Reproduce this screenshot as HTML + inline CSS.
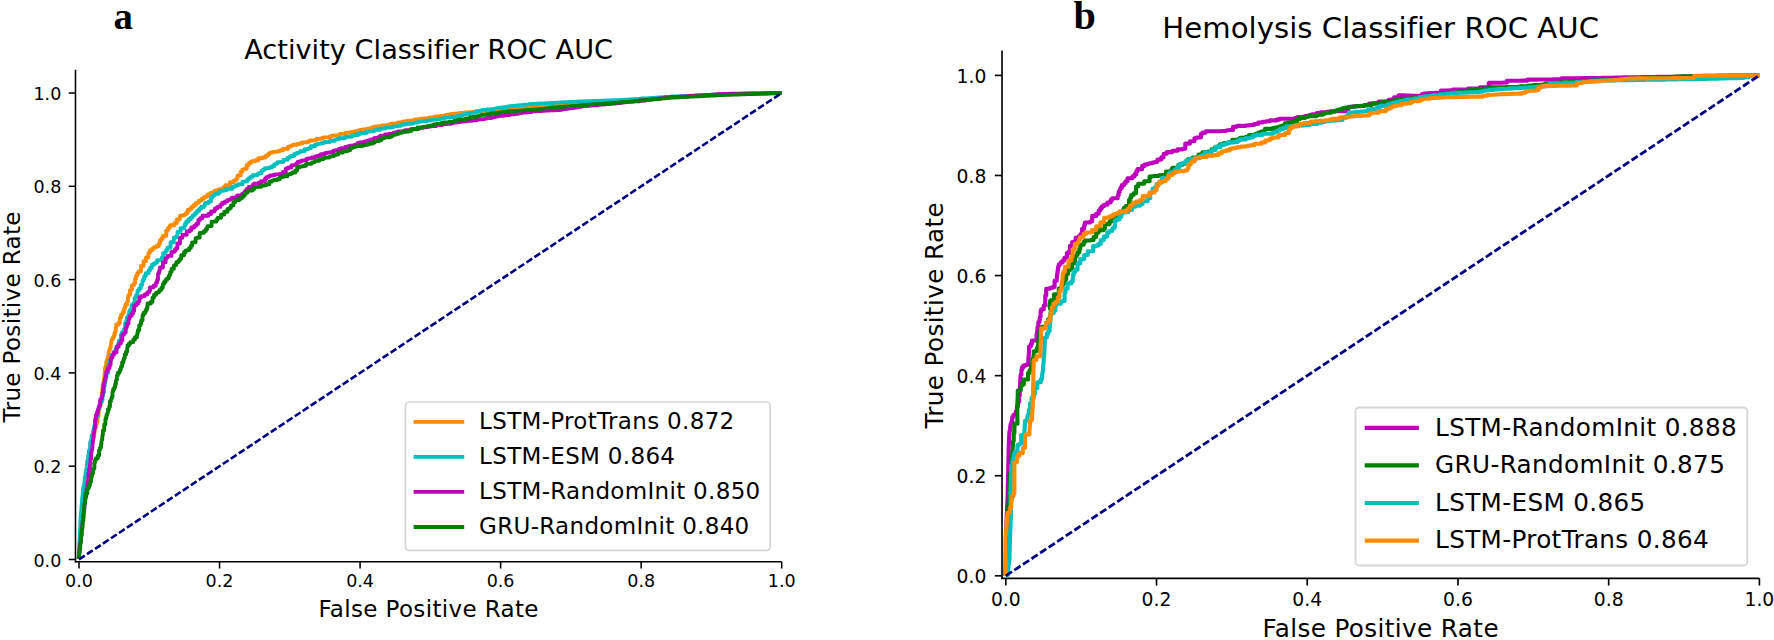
<!DOCTYPE html>
<html><head><meta charset="utf-8"><title>ROC AUC</title>
<style>
html,body{margin:0;padding:0;background:#fff;}
body{width:1774px;height:640px;overflow:hidden;}
svg{display:block;}
svg text{font-family:"DejaVu Sans","Liberation Sans",sans-serif;fill:#000;}
svg text.ltr{font-family:"Liberation Serif",serif;font-weight:bold;}
</style></head><body>
<svg width="1774" height="640" viewBox="0 0 1774 640">
<rect width="1774" height="640" fill="#fff"/>
<polyline points="78.8,558.8 78.9,557.1 79.0,554.4 79.2,552.1 79.4,548.8 79.5,546.1 79.7,543.5 79.9,540.2 80.0,538.1 80.2,534.9 80.3,532.6 80.5,530.0 80.7,526.6 80.9,523.5 81.1,520.8 81.3,517.7 81.4,516.1 81.6,513.8 81.8,510.5 82.0,507.5 82.2,505.2 82.3,503.2 82.4,501.0 82.5,500.0 82.7,498.3 83.1,498.3 83.1,494.9 83.1,492.4 83.5,492.4 83.7,490.3 84.0,488.0 84.2,486.2 84.5,484.0 84.8,481.8 85.1,481.8 85.1,478.9 85.3,477.4 85.6,475.6 85.6,472.4 85.9,472.4 86.0,472.0 86.4,472.0 86.4,469.4 86.8,469.4 86.8,467.5 86.8,464.6 87.3,464.6 87.3,461.7 87.8,461.7 88.2,461.7 88.2,459.3 88.7,459.3 88.7,456.5 88.7,454.7 89.0,454.7 89.0,452.8 89.3,452.8 89.8,452.8 89.8,449.8 90.2,449.8 90.2,447.6 90.7,447.6 90.7,444.5 91.0,443.0 91.7,443.0 91.7,440.4 92.3,440.4 92.3,438.4 92.3,436.4 92.9,436.4 92.9,434.2 93.5,434.2 93.5,432.8 93.9,432.8 94.6,432.8 94.6,430.4 94.6,427.6 95.4,427.6 96.0,427.6 96.0,425.4 96.4,425.4 96.4,423.8 96.9,423.8 96.9,422.2 97.5,422.2 97.5,420.0 97.5,417.8 97.9,417.8 97.9,416.0 98.2,416.0 98.6,416.0 98.6,413.9 98.6,411.8 98.9,411.8 98.9,408.7 99.5,408.7 99.5,405.3 100.1,405.3 100.6,405.3 100.6,402.3 101.2,402.3 101.2,399.0 101.2,398.8 101.6,398.8 101.6,395.8 102.0,395.8 102.0,392.7 102.2,391.1 102.4,389.6 102.7,387.6 102.7,384.7 103.1,384.7 103.4,384.7 103.4,382.1 103.8,382.1 103.8,379.5 104.2,379.5 104.2,376.4 104.4,374.9 104.7,374.9 104.7,372.1 105.0,370.0 105.0,368.0 105.4,368.0 105.4,366.5 105.8,366.5 106.2,366.5 106.2,364.7 106.2,362.1 106.8,362.1 106.8,360.0 107.2,360.0 107.6,360.0 107.6,358.2 108.0,358.2 108.0,356.4 108.6,356.4 108.6,353.9 108.6,352.1 109.0,352.1 109.0,350.3 109.4,350.3 109.9,350.3 109.9,348.1 110.0,347.5 110.7,347.5 110.7,345.3 111.1,345.3 111.1,343.8 111.1,342.4 111.6,342.4 111.6,339.6 112.5,339.6 112.5,337.9 113.0,337.9 113.5,337.9 113.5,336.2 114.4,336.2 114.4,333.3 115.2,333.3 115.2,330.9 115.9,330.9 115.9,328.6 115.9,327.5 116.2,327.5 116.2,324.5 117.7,324.5 118.8,324.5 118.8,322.4 119.9,322.4 119.9,320.3 119.9,317.7 121.1,317.7 121.1,314.6 122.7,314.6 122.7,312.5 123.8,312.5 123.8,309.2 124.8,309.2 124.8,307.4 125.3,307.4 125.3,304.7 126.2,304.7 127.0,304.7 127.0,302.1 127.9,302.1 127.9,299.3 127.9,297.3 128.5,297.3 128.5,294.9 129.2,294.9 130.0,294.9 130.0,292.5 130.0,290.0 131.0,290.0 131.9,290.0 131.9,287.9 131.9,285.3 133.0,285.3 134.0,285.3 134.0,282.9 135.2,282.9 135.2,280.0 135.2,278.4 135.9,278.4 136.2,278.4 136.2,277.5 136.2,275.5 137.3,275.5 137.3,273.1 138.6,273.1 138.6,271.3 139.6,271.3 141.0,271.3 141.0,268.8 141.0,265.8 142.5,265.8 143.6,265.8 143.6,263.9 143.6,261.2 145.0,261.2 146.0,261.2 146.0,259.5 146.0,257.5 147.1,257.5 148.4,257.5 148.4,255.4 148.4,253.2 149.6,253.2 149.6,252.5 150.0,252.5 150.0,250.2 152.3,250.2 152.3,248.6 153.9,248.6 153.9,247.1 155.4,247.1 156.5,247.1 156.5,246.0 158.9,246.0 158.9,243.6 160.0,243.6 160.0,242.5 160.0,240.1 161.6,240.1 161.6,238.5 162.7,238.5 162.7,236.0 164.3,236.0 166.2,236.0 166.2,233.2 166.2,230.6 168.0,230.6 168.0,227.9 169.7,227.9 170.0,227.5 170.0,225.2 172.3,225.2 174.5,225.2 174.5,223.0 176.8,223.0 176.8,220.7 176.8,219.5 178.0,219.5 179.7,219.5 179.7,217.8 180.0,217.5 180.0,215.6 182.6,215.6 183.8,215.6 183.8,214.6 185.9,214.6 185.9,213.1 187.6,213.1 187.6,211.8 187.6,210.0 190.0,210.0 190.0,208.6 191.6,208.6 191.6,206.9 193.6,206.9 193.6,204.9 195.9,204.9 195.9,202.8 198.4,202.8 198.4,202.5 198.8,202.5 198.8,200.6 201.4,200.6 201.4,198.9 203.8,198.9 203.8,197.1 206.3,197.1 206.3,196.2 207.5,196.2 207.5,194.3 210.4,194.3 210.4,192.8 212.7,192.8 214.0,192.8 214.0,191.9 214.0,191.2 215.0,191.2 215.0,190.6 217.1,190.6 217.1,190.1 218.6,190.1 218.6,189.3 220.7,189.3 220.7,188.8 222.5,188.8 223.8,188.8 223.8,187.9 223.8,186.8 225.4,186.8 225.4,185.2 227.8,185.2 230.0,185.2 230.0,183.8 230.0,182.2 231.9,182.2 233.7,182.2 233.7,180.6 236.0,180.6 236.0,178.8 237.5,178.8 237.5,177.5 237.5,175.3 239.4,175.3 240.7,175.3 240.7,173.8 240.7,171.7 242.4,171.7 242.4,169.3 244.5,169.3 244.5,168.8 245.0,168.8 246.8,168.8 246.8,166.9 246.8,165.0 248.8,165.0 248.8,163.0 250.7,163.0 250.7,161.7 252.0,161.7 252.0,161.2 252.5,161.2 255.3,161.2 255.3,160.2 258.3,160.2 258.3,159.1 258.3,158.2 260.6,158.2 262.5,158.2 262.5,157.5 265.4,157.5 265.4,156.0 266.9,156.0 266.9,155.3 268.3,155.3 268.3,154.6 268.3,153.8 269.9,153.8 269.9,152.6 272.4,152.6 272.5,152.5 272.5,151.8 274.7,151.8 276.4,151.8 276.4,151.3 279.7,151.3 279.7,150.4 282.9,150.4 282.9,149.4 282.9,148.9 284.5,148.9 285.0,148.8 288.0,148.8 288.0,147.6 288.0,146.7 290.0,146.7 290.0,146.1 291.7,146.1 291.7,145.4 293.3,145.4 293.3,144.7 295.1,144.7 297.2,144.7 297.2,143.9 297.5,143.8 300.4,143.8 300.4,143.2 302.3,143.2 302.3,142.8 302.3,142.3 304.9,142.3 308.0,142.3 308.0,141.6 308.0,141.2 310.0,141.2 310.0,140.5 312.8,140.5 314.5,140.5 314.5,140.0 316.3,140.0 316.3,139.6 316.3,139.0 318.6,139.0 320.0,139.0 320.0,138.6 321.7,138.6 321.7,138.2 323.3,138.2 323.3,137.9 323.3,137.4 326.0,137.4 329.3,137.4 329.3,136.7 331.5,136.7 331.5,136.2 331.5,135.6 334.5,135.6 334.5,135.3 336.3,135.3 339.0,135.3 339.0,134.7 340.0,134.5 340.0,133.8 343.2,133.8 345.9,133.8 345.9,133.2 345.9,132.6 348.6,132.6 350.7,132.6 350.7,132.1 353.9,132.1 353.9,131.4 357.2,131.4 357.2,130.6 358.9,130.6 358.9,130.3 360.0,130.0 362.4,130.0 362.4,129.5 364.8,129.5 364.8,129.1 368.2,129.1 368.2,128.4 370.8,128.4 370.8,127.9 372.6,127.9 372.6,127.6 372.6,127.2 374.5,127.2 374.5,126.6 377.9,126.6 377.9,126.2 380.0,126.2 382.3,126.2 382.3,125.8 382.3,125.3 384.7,125.3 387.7,125.3 387.7,124.7 391.2,124.7 391.2,124.1 391.2,123.6 393.6,123.6 396.3,123.6 396.3,123.1 397.9,123.1 397.9,122.8 397.9,122.5 399.7,122.5 400.0,122.4 402.8,122.4 402.8,121.9 402.8,121.5 405.1,121.5 405.1,121.1 407.6,121.1 407.6,120.7 409.9,120.7 412.8,120.7 412.8,120.2 414.7,120.2 414.7,119.9 414.7,119.5 417.0,119.5 420.0,119.5 420.0,119.0 420.0,118.6 423.2,118.6 423.2,118.3 425.5,118.3 428.0,118.3 428.0,117.9 429.8,117.7 429.8,117.4 432.2,117.4 433.9,117.1 435.5,116.9 435.5,116.5 438.3,116.5 440.0,116.3 440.0,115.8 442.9,115.8 445.5,115.8 445.5,115.4 445.5,115.0 448.0,115.0 448.0,114.5 451.1,114.5 451.1,114.0 453.7,114.0 453.7,113.7 455.9,113.7 458.0,113.7 458.0,113.3 459.8,113.0 460.0,113.0 462.6,112.8 465.2,112.5 468.1,112.3 470.5,112.1 473.6,111.8 476.7,111.5 479.2,111.3 481.3,111.1 483.7,110.9 485.0,110.8 487.6,110.5 491.0,110.3 493.2,110.1 496.4,109.8 499.3,109.6 501.1,109.5 503.3,109.3 506.4,109.0 509.0,108.8 510.0,108.8 511.8,108.6 511.8,108.2 515.2,108.2 516.7,108.1 519.5,107.8 519.5,107.5 522.7,107.5 525.7,107.5 525.7,107.2 527.5,107.0 529.3,106.8 532.1,106.5 534.8,106.3 535.0,106.2 537.6,106.0 539.1,105.8 541.8,105.6 544.4,105.3 547.1,105.0 547.1,104.7 550.3,104.7 552.4,104.5 552.4,104.2 555.6,104.2 557.9,104.0 560.0,103.8 561.7,103.7 564.2,103.5 567.6,103.4 570.5,103.2 573.3,103.1 574.8,103.0 577.5,102.9 579.9,102.8 581.8,102.7 584.6,102.5 585.0,102.5 587.5,102.4 590.7,102.3 592.5,102.2 594.5,102.2 596.6,102.1 598.7,102.0 601.6,101.9 603.2,101.9 605.2,101.8 606.9,101.7 609.5,101.6 611.7,101.5 613.3,101.5 615.0,101.4 617.2,101.3 620.0,101.2 621.6,101.1 623.9,100.9 626.7,100.7 629.5,100.5 631.9,100.3 633.8,100.2 636.0,100.0 638.3,99.8 640.6,99.6 643.5,99.4 645.1,99.3 648.0,99.1 649.8,98.9 652.7,98.7 655.7,98.5 657.3,98.3 660.6,98.1 663.8,97.8 665.4,97.7 668.2,97.5 671.7,97.2 673.0,97.1 675.1,97.0 677.1,96.9 678.7,96.8 682.2,96.6 685.5,96.5 687.4,96.4 690.0,96.2 692.4,96.1 695.7,95.9 697.7,95.8 701.1,95.7 702.9,95.6 704.8,95.5 706.5,95.4 709.4,95.2 711.0,95.2 713.3,95.0 715.3,94.9 717.9,94.8 720.0,94.7 722.9,94.6 725.8,94.4 726.0,94.4 728.5,94.3 731.7,94.3 734.0,94.2 736.7,94.1 739.2,94.1 740.7,94.0 742.8,94.0 744.7,93.9 747.7,93.9 750.1,93.8 753.1,93.7 756.1,93.6 758.4,93.6 760.4,93.5 763.0,93.5 765.5,93.4 768.7,93.3 772.1,93.2 775.2,93.2 777.2,93.1 779.1,93.1 781.4,93.0 781.6,93.0" fill="none" stroke="#ff8c00" stroke-width="3.85" stroke-linejoin="round" stroke-linecap="butt"/>
<polyline points="78.8,558.8 78.8,556.8 79.0,554.1 79.1,550.7 79.2,547.8 79.4,545.4 79.4,543.3 79.5,541.5 79.7,538.0 79.8,535.0 79.9,533.0 80.0,530.3 80.2,527.4 80.3,524.1 80.4,522.0 80.5,520.0 80.6,518.1 80.9,515.5 81.1,512.1 81.4,509.2 81.5,507.4 81.7,505.2 81.8,503.5 82.0,501.7 82.2,499.2 82.3,497.4 82.5,495.4 82.5,495.0 82.8,495.0 82.8,492.7 83.1,490.7 83.1,488.0 83.5,488.0 83.5,486.0 83.9,486.0 84.3,486.0 84.3,483.0 84.7,483.0 84.7,480.0 84.7,477.1 85.2,477.1 85.5,475.2 85.9,475.2 85.9,472.5 86.2,472.5 86.2,470.0 86.7,470.0 86.7,466.9 87.2,466.9 87.2,464.1 87.2,461.1 87.7,461.1 88.1,461.1 88.1,458.0 88.1,455.5 88.5,455.5 88.9,455.5 88.9,453.3 88.9,450.7 89.3,450.7 89.7,450.7 89.7,448.4 90.1,448.4 90.1,445.6 90.1,442.2 90.6,442.2 91.0,442.2 91.0,440.0 91.6,440.0 91.6,437.5 91.6,435.5 92.0,435.5 92.7,435.5 92.7,432.4 93.5,432.4 93.5,429.2 94.2,429.2 94.2,426.0 95.0,426.0 95.0,422.7 95.0,419.4 95.7,419.4 95.7,417.2 96.2,417.2 96.5,416.0 97.6,416.0 97.6,412.7 97.6,410.5 98.4,410.5 98.4,408.8 99.0,408.8 99.0,407.1 99.6,407.1 99.6,405.0 100.3,405.0 100.3,401.8 101.5,401.8 102.0,401.8 102.0,400.2 102.5,400.2 102.5,398.8 102.5,396.2 102.9,396.2 102.9,394.0 103.3,394.0 103.6,392.3 104.2,392.3 104.2,388.9 104.2,385.7 104.8,385.7 104.8,383.0 105.3,383.0 105.3,380.1 105.8,380.1 105.8,377.4 106.3,377.4 106.5,376.0 106.5,372.8 107.3,372.8 108.2,372.8 108.2,369.5 108.6,369.5 108.6,367.7 108.6,364.6 109.4,364.6 109.4,361.8 110.1,361.8 110.1,360.3 110.5,360.3 111.0,360.3 111.0,358.6 111.2,357.5 111.2,355.7 112.1,355.7 112.1,354.3 112.9,354.3 114.1,354.3 114.1,351.9 115.6,351.9 115.6,348.8 116.7,348.8 116.7,346.6 117.9,346.6 117.9,344.3 118.9,344.3 118.9,342.3 118.9,340.6 119.7,340.6 120.0,340.0 120.8,340.0 120.8,337.9 120.8,334.7 121.9,334.7 121.9,332.2 122.8,332.2 123.8,332.2 123.8,329.2 125.0,329.2 125.0,326.0 125.0,323.4 125.9,323.4 125.9,322.5 126.2,322.5 126.2,320.6 126.9,320.6 126.9,317.5 128.0,317.5 128.0,315.8 128.6,315.8 128.6,314.1 129.2,314.1 129.2,311.3 130.2,311.3 130.2,309.3 130.9,309.3 131.6,309.3 131.6,307.4 131.6,305.0 132.5,305.0 133.4,305.0 133.4,302.9 134.6,302.9 134.6,300.2 134.6,298.1 135.6,298.1 135.6,296.5 136.3,296.5 136.3,294.9 137.0,294.9 137.5,294.9 137.5,293.8 137.5,290.6 138.9,290.6 138.9,288.6 139.8,288.6 140.7,288.6 140.7,286.6 140.7,284.8 141.5,284.8 142.2,284.8 142.2,283.1 142.5,282.5 142.5,280.6 143.5,280.6 143.5,278.8 144.4,278.8 144.4,276.1 145.8,276.1 145.8,273.2 147.3,273.2 148.6,273.2 148.6,270.6 150.0,270.6 150.0,268.0 151.7,268.0 151.7,266.7 151.7,264.9 153.8,264.9 153.8,263.3 155.9,263.3 155.9,262.3 157.1,262.3 157.1,260.2 159.7,260.2 160.0,260.0 161.8,260.0 161.8,257.6 163.2,257.6 163.2,255.7 163.2,253.1 165.2,253.1 165.2,251.7 166.2,251.7 166.2,250.0 167.5,250.0 167.5,247.7 168.9,247.7 170.5,247.7 170.5,245.0 170.5,242.2 172.2,242.2 173.9,242.2 173.9,239.3 173.9,237.6 174.9,237.6 175.0,237.5 176.4,237.5 176.4,235.8 177.5,235.8 177.5,234.4 177.5,232.0 179.4,232.0 180.5,232.0 180.5,230.6 180.5,228.2 182.5,228.2 184.5,228.2 184.5,225.6 185.0,225.6 185.0,225.0 185.0,223.7 186.3,223.7 186.3,221.5 188.5,221.5 188.5,219.2 190.8,219.2 190.8,217.3 192.7,217.3 192.7,215.4 194.6,215.4 194.6,215.0 195.0,215.0 195.0,213.1 196.9,213.1 196.9,211.0 199.0,211.0 199.0,208.8 201.2,208.8 201.2,206.7 203.3,206.7 204.5,206.7 204.5,205.5 205.0,205.5 205.0,205.0 205.0,203.0 207.0,203.0 208.6,203.0 208.6,201.4 210.9,201.4 210.9,199.1 210.9,197.8 212.2,197.8 212.2,196.2 213.8,196.2 213.8,195.0 215.0,195.0 215.0,193.9 216.4,193.9 218.5,193.9 218.5,192.4 220.0,192.4 220.0,191.2 220.0,190.9 221.5,190.9 223.3,190.9 223.3,190.4 225.2,190.4 225.2,189.9 227.2,189.9 227.2,189.4 227.2,188.7 229.6,188.7 232.5,188.7 232.5,188.0 232.5,186.6 235.5,186.6 235.5,185.5 238.0,185.5 238.0,184.2 240.9,184.2 242.5,184.2 242.5,183.5 242.5,181.6 245.3,181.6 247.2,181.6 247.2,180.3 247.2,179.4 248.7,179.4 248.7,178.2 250.5,178.2 250.5,176.8 252.5,176.8 252.5,175.2 255.2,175.2 257.3,175.2 257.3,174.0 258.6,174.0 258.6,173.2 261.6,173.2 261.6,171.5 261.6,170.6 263.1,170.6 263.1,169.5 265.0,169.5 265.0,168.1 267.9,168.1 269.6,168.1 269.6,167.3 271.9,167.3 271.9,166.2 274.2,166.2 274.2,165.1 274.2,164.3 275.8,164.3 275.8,163.5 277.4,163.5 277.5,163.5 277.5,162.1 280.4,162.1 283.3,162.1 283.3,160.7 283.3,159.9 284.9,159.9 287.4,159.9 287.4,158.7 287.4,157.8 289.5,157.8 290.0,157.5 290.0,156.1 292.7,156.1 294.2,156.1 294.2,155.3 294.2,153.9 296.8,153.9 296.8,152.8 299.1,152.8 299.1,152.3 300.0,152.3 300.0,151.2 302.4,151.2 304.7,151.2 304.7,150.1 304.7,149.1 306.9,149.1 308.3,149.1 308.3,148.4 310.8,148.4 310.8,147.2 310.8,146.2 312.9,146.2 315.0,146.2 315.0,145.2 315.0,144.7 317.0,144.7 317.0,143.9 320.1,143.9 320.1,143.4 321.9,143.4 321.9,142.8 324.4,142.8 324.4,142.0 327.4,142.0 329.8,142.0 329.8,141.3 329.8,140.9 331.7,140.9 334.7,140.9 334.7,140.1 335.0,140.0 335.0,139.6 336.6,139.6 336.6,139.0 339.1,139.0 339.1,138.2 342.1,138.2 344.8,138.2 344.8,137.6 344.8,137.1 346.7,137.1 346.7,136.7 348.3,136.7 351.4,136.7 351.4,135.9 353.6,135.9 353.6,135.4 353.6,135.0 355.0,135.0 358.1,135.0 358.1,134.3 358.1,133.7 360.7,133.7 360.7,133.0 363.7,133.0 366.3,133.0 366.3,132.3 366.3,131.9 368.3,131.9 368.3,131.3 370.6,131.3 373.8,131.3 373.8,130.6 375.0,130.3 375.0,129.9 376.9,129.9 380.1,129.9 380.1,129.3 380.1,128.6 383.3,128.6 385.5,128.6 385.5,128.2 385.5,127.6 388.5,127.6 391.3,127.6 391.3,127.0 393.7,127.0 393.7,126.6 395.0,126.3 397.8,126.3 397.8,125.8 400.8,125.8 400.8,125.2 400.8,124.7 403.4,124.7 403.4,124.2 406.4,124.2 406.4,123.9 408.1,123.9 410.3,123.9 410.3,123.5 413.5,123.5 413.5,122.9 415.0,122.6 417.1,122.6 417.1,122.3 418.8,122.0 418.8,121.7 420.9,121.7 420.9,121.4 423.1,121.4 426.6,121.4 426.6,120.9 426.6,120.6 428.6,120.6 430.9,120.6 430.9,120.2 430.9,119.9 433.3,119.9 435.0,119.6 437.8,119.6 437.8,119.2 439.9,119.2 439.9,118.8 441.9,118.8 441.9,118.5 444.1,118.5 444.1,118.1 444.1,117.6 447.2,117.6 448.8,117.4 450.6,117.1 453.3,117.1 453.3,116.7 456.6,116.7 456.6,116.1 459.5,116.1 459.5,115.7 460.0,115.6 462.4,115.6 462.4,115.1 462.4,114.4 465.3,114.4 465.3,113.7 468.4,113.7 468.4,113.4 470.0,113.4 470.0,112.9 472.2,112.9 475.1,112.9 475.1,112.2 476.6,112.2 476.6,111.9 476.6,111.1 480.0,111.1 480.0,110.7 481.9,110.7 481.9,110.0 485.0,110.0 486.5,109.8 486.5,109.5 488.6,109.5 490.9,109.5 490.9,109.1 494.3,109.1 494.3,108.6 496.7,108.6 496.7,108.2 498.3,108.0 498.3,107.6 501.3,107.6 502.9,107.3 505.7,107.3 505.7,106.9 508.1,106.9 508.1,106.5 510.0,106.2 512.2,106.0 513.7,105.9 515.6,105.7 518.2,105.4 520.6,105.2 522.7,105.0 525.2,104.7 527.9,104.5 530.1,104.2 532.8,104.0 535.0,103.8 538.0,103.6 541.0,103.4 543.0,103.4 545.0,103.3 547.3,103.1 550.6,103.0 554.0,102.8 556.3,102.7 558.4,102.6 560.0,102.5 562.1,102.4 565.1,102.2 567.9,102.1 570.7,102.0 573.0,101.9 576.4,101.7 579.9,101.5 583.0,101.4 585.0,101.2 587.2,101.2 589.8,101.1 592.5,101.0 595.3,100.9 598.8,100.8 601.6,100.7 604.5,100.6 607.6,100.4 610.7,100.3 614.1,100.2 616.2,100.1 617.9,100.1 620.0,100.0 622.4,99.8 625.8,99.6 628.2,99.5 631.0,99.3 632.9,99.1 635.7,99.0 638.6,98.8 642.0,98.5 643.6,98.4 645.6,98.3 649.0,98.1 651.5,97.9 653.3,97.8 656.3,97.6 658.0,97.5 660.1,97.4 663.4,97.1 666.8,96.9 669.0,96.8 672.3,96.5 673.0,96.5 675.6,96.4 677.7,96.3 680.8,96.1 683.8,96.0 685.9,95.9 687.7,95.8 690.6,95.7 692.8,95.6 695.8,95.4 698.1,95.3 701.0,95.2 704.4,95.0 706.1,94.9 707.7,94.9 709.4,94.8 712.0,94.7 715.3,94.5 716.8,94.4 718.5,94.4 720.6,94.3 722.5,94.2 725.8,94.0 726.0,94.0 728.8,93.9 730.4,93.9 733.6,93.9 735.8,93.8 738.4,93.8 741.4,93.7 744.1,93.7 745.7,93.6 748.6,93.6 751.0,93.5 753.2,93.5 756.2,93.5 758.9,93.4 761.2,93.4 764.3,93.3 767.4,93.3 769.8,93.2 771.4,93.2 774.4,93.1 776.8,93.1 779.2,93.0 781.6,93.0" fill="none" stroke="#00bfbf" stroke-width="3.85" stroke-linejoin="round" stroke-linecap="butt"/>
<polyline points="78.8,558.8 78.8,555.4 79.1,555.4 79.4,552.9 79.6,551.1 79.7,549.6 79.9,547.8 80.2,545.0 80.4,543.0 80.8,543.0 80.8,540.2 81.0,537.6 81.2,536.0 81.4,534.3 81.6,532.2 81.9,530.0 82.2,530.0 82.2,526.7 82.5,524.3 82.7,522.5 82.9,520.2 83.3,520.2 83.3,516.9 83.5,514.7 83.7,512.6 83.8,512.5 84.1,512.5 84.1,509.7 84.4,507.8 84.4,505.2 84.7,505.2 84.7,502.6 85.1,502.6 85.1,500.0 85.4,500.0 85.4,497.0 85.8,497.0 86.2,497.0 86.2,494.0 86.5,491.8 86.5,488.8 86.9,488.8 87.2,487.0 87.4,485.5 87.4,483.1 87.7,483.1 87.9,481.0 88.4,481.0 88.4,477.9 88.4,475.0 88.8,475.0 88.8,471.9 89.1,471.9 89.1,469.1 89.5,469.1 89.9,469.1 89.9,466.0 90.1,464.0 90.5,464.0 90.5,461.2 90.5,458.7 90.8,458.7 91.2,458.7 91.2,455.6 91.2,452.8 91.5,452.8 91.7,451.1 91.9,449.5 92.3,449.5 92.3,446.9 92.5,445.0 92.8,442.9 93.0,440.8 93.2,439.1 93.4,437.6 93.8,437.6 93.8,434.3 94.1,432.4 94.3,430.6 94.6,430.6 94.6,427.8 95.0,427.8 95.0,425.0 95.3,425.0 95.3,422.4 95.3,419.4 95.7,419.4 95.9,417.9 95.9,415.0 96.2,415.0 97.0,415.0 97.0,412.5 98.0,412.5 98.0,409.4 98.6,409.4 98.6,407.2 99.1,407.2 99.1,405.6 100.2,405.6 100.2,402.3 100.2,399.5 101.0,399.5 101.2,398.8 101.8,398.8 101.8,395.9 102.5,395.9 102.5,392.7 102.9,392.7 102.9,390.9 102.9,388.3 103.5,388.3 103.5,384.9 104.2,384.9 104.2,382.0 104.8,382.0 104.8,379.1 105.4,379.1 105.4,377.3 105.8,377.3 105.8,375.2 106.2,375.2 106.2,375.0 106.2,371.8 107.3,371.8 107.3,369.7 108.0,369.7 108.0,367.9 108.6,367.9 109.6,367.9 109.6,365.1 110.6,365.1 110.6,362.0 110.6,360.0 111.2,360.0 111.2,357.4 112.5,357.4 112.5,354.8 113.9,354.8 113.9,352.2 115.1,352.2 116.6,352.2 116.6,349.3 116.6,346.7 117.9,346.7 118.7,346.7 118.7,345.0 118.8,345.0 118.8,343.6 119.4,343.6 120.9,343.6 120.9,340.6 122.3,340.6 122.3,337.9 122.3,334.7 123.9,334.7 123.9,332.8 124.9,332.8 125.0,332.5 125.8,332.5 125.8,330.2 125.8,328.3 126.4,328.3 126.4,326.2 127.1,326.2 127.1,323.6 128.0,323.6 128.6,323.6 128.6,321.7 128.6,318.9 129.5,318.9 129.5,317.5 130.0,317.5 130.0,315.8 130.8,315.8 131.8,315.8 131.8,313.6 133.0,313.6 133.0,311.0 134.2,311.0 134.2,308.3 134.2,305.4 135.5,305.4 136.2,305.4 136.2,303.8 138.0,303.8 138.0,301.6 139.4,301.6 139.4,299.9 139.4,297.5 141.2,297.5 141.2,296.1 142.9,296.1 144.7,296.1 144.7,294.5 147.3,294.5 147.3,292.4 149.1,292.4 149.1,290.8 150.0,290.8 150.0,290.0 150.0,287.3 152.2,287.3 153.5,287.3 153.5,285.7 155.8,285.7 155.8,283.1 156.2,283.1 156.2,282.5 157.1,282.5 157.1,279.8 158.0,279.8 158.0,276.6 158.0,273.7 158.9,273.7 158.9,271.9 159.4,271.9 159.4,270.0 160.0,270.0 160.0,267.5 161.5,267.5 162.9,267.5 162.9,265.2 162.9,262.4 164.6,262.4 165.6,262.4 165.6,260.7 165.6,258.1 167.2,258.1 167.2,257.5 167.5,257.5 167.5,255.9 169.1,255.9 171.4,255.9 171.4,253.6 171.4,251.8 173.2,251.8 174.6,251.8 174.6,250.4 174.6,250.0 175.0,250.0 176.0,250.0 176.0,248.2 177.4,248.2 177.4,245.6 177.4,243.5 178.5,243.5 180.0,243.5 180.0,240.8 180.0,237.8 181.6,237.8 182.4,237.8 182.4,236.5 182.5,236.2 182.5,234.8 184.1,234.8 186.7,234.8 186.7,232.5 186.7,231.4 188.0,231.4 189.8,231.4 189.8,229.9 191.3,229.9 191.3,228.6 191.3,227.5 192.5,227.5 194.3,227.5 194.3,225.7 196.3,225.7 196.3,223.7 198.3,223.7 198.3,221.7 198.3,219.9 200.1,219.9 200.1,218.2 201.8,218.2 202.5,218.2 202.5,217.5 202.5,215.7 205.4,215.7 208.4,215.7 208.4,214.0 211.1,214.0 211.1,212.4 211.1,211.5 212.4,211.5 214.4,211.5 214.4,210.4 215.0,210.4 215.0,210.0 215.0,208.3 217.3,208.3 217.3,206.9 219.1,206.9 220.3,206.9 220.3,206.0 220.3,204.8 222.0,204.8 222.0,203.0 224.4,203.0 225.0,203.0 225.0,202.5 225.0,201.3 227.5,201.3 227.5,199.8 230.5,199.8 230.5,199.0 231.9,199.0 231.9,197.7 234.5,197.7 235.0,197.5 237.1,197.5 237.1,196.5 237.1,195.5 239.1,195.5 242.0,195.5 242.0,194.0 244.1,194.0 244.1,193.0 244.1,192.5 245.0,192.5 245.0,190.8 246.7,190.8 246.7,188.9 248.6,188.9 248.6,187.0 250.5,187.0 252.5,187.0 252.5,185.0 254.0,185.0 254.0,184.5 254.0,183.7 256.1,183.7 258.6,183.7 258.6,182.7 261.0,182.7 261.0,181.8 261.0,181.2 262.5,181.2 265.0,181.2 265.0,179.6 265.0,178.7 266.3,178.7 266.3,177.1 268.7,177.1 268.7,176.2 270.0,176.2 270.0,175.5 273.2,175.5 273.2,175.0 275.1,175.0 275.1,174.4 277.5,174.4 279.5,174.4 279.5,173.9 280.0,173.8 282.9,173.8 282.9,172.0 285.8,172.0 285.8,170.1 285.8,168.6 288.2,168.6 288.2,167.5 290.0,167.5 291.6,167.5 291.6,166.6 291.6,165.1 294.4,165.1 296.2,165.1 296.2,164.1 296.2,163.3 297.6,163.3 297.6,162.0 300.0,162.0 300.0,161.2 302.0,161.2 302.0,160.3 304.4,160.3 306.4,160.3 306.4,159.6 306.4,159.0 308.0,159.0 308.0,158.3 309.8,158.3 311.8,158.3 311.8,157.5 315.0,157.5 315.0,156.3 315.0,156.3 316.9,156.3 316.9,155.8 319.2,155.8 319.2,155.2 320.9,155.2 320.9,154.7 320.9,154.1 323.1,154.1 324.7,154.1 324.7,153.7 324.7,153.2 326.5,153.2 326.5,152.6 328.7,152.6 328.7,152.3 330.0,152.3 331.6,152.3 331.6,151.8 333.5,151.8 333.5,151.3 333.5,150.6 335.5,150.6 335.5,150.2 337.1,150.2 338.9,150.2 338.9,149.6 338.9,149.0 341.0,149.0 341.0,148.1 344.1,148.1 345.0,147.8 345.0,146.8 348.0,146.8 348.0,146.2 350.0,146.2 350.0,145.6 351.7,145.6 354.2,145.6 354.2,144.8 357.4,144.8 357.4,143.8 357.4,143.1 359.6,143.1 359.6,142.4 361.8,142.4 364.5,142.4 364.5,141.4 365.0,141.3 367.2,141.3 367.2,140.6 370.1,140.6 370.1,139.7 372.8,139.7 372.8,138.8 374.4,138.8 374.4,138.3 374.4,137.8 376.3,137.8 378.6,137.8 378.6,137.0 380.4,137.0 380.4,136.4 380.4,135.7 382.9,135.7 385.0,135.7 385.0,135.0 385.0,135.0 385.0,134.4 387.6,134.4 389.1,134.4 389.1,134.1 389.1,133.7 390.8,133.7 393.5,133.7 393.5,133.1 393.5,132.6 395.5,132.6 395.5,132.1 397.9,132.1 397.9,131.4 401.0,131.4 403.4,131.4 403.4,130.8 405.0,130.8 405.0,130.5 405.0,130.1 407.8,130.1 410.2,130.1 410.2,129.7 410.2,129.4 412.4,129.4 412.4,129.0 415.5,129.0 418.6,129.0 418.6,128.5 420.0,128.3 420.0,127.9 422.6,127.9 422.6,127.4 425.7,127.4 427.5,127.1 427.5,126.7 429.4,126.7 429.4,126.4 431.4,126.4 433.1,126.1 436.2,126.1 436.2,125.6 436.2,125.1 439.7,125.1 440.0,125.0 442.5,125.0 442.5,124.6 444.0,124.4 444.0,124.0 446.8,124.0 448.7,123.7 451.4,123.7 451.4,123.3 453.3,123.0 453.3,122.6 456.0,122.6 456.0,122.2 458.6,122.2 460.0,122.0 461.9,121.7 464.0,121.5 465.6,121.3 467.5,121.0 469.7,120.7 472.2,120.7 472.2,120.4 473.9,120.2 476.8,120.2 476.8,119.8 478.4,119.6 480.3,119.4 483.2,119.4 483.2,119.0 485.0,118.8 485.0,118.8 486.7,118.5 486.7,118.0 489.1,118.0 491.5,118.0 491.5,117.6 491.5,117.2 494.2,117.2 494.2,116.8 496.4,116.8 496.4,116.3 499.5,116.3 499.5,115.9 501.8,115.9 503.8,115.9 503.8,115.6 503.8,115.0 506.8,115.0 510.0,115.0 510.0,114.5 511.8,114.3 515.1,114.3 515.1,113.8 518.4,113.8 518.4,113.4 518.4,113.0 521.8,113.0 521.8,112.6 524.5,112.6 527.1,112.6 527.1,112.3 528.8,112.1 531.6,112.1 531.6,111.7 531.6,111.3 534.4,111.3 535.0,111.2 536.9,111.2 540.2,111.0 543.7,110.8 546.5,110.7 548.7,110.6 552.0,110.4 554.5,110.3 557.0,110.2 560.0,110.0 560.0,110.0 560.0,109.7 562.1,109.7 563.7,109.4 563.7,109.0 566.4,109.0 566.4,108.6 569.2,108.6 569.2,108.3 571.6,108.3 573.4,108.0 575.1,107.7 576.7,107.5 578.6,107.2 578.6,106.8 581.2,106.8 581.2,106.4 583.7,106.4 585.0,106.2 587.0,106.1 588.5,105.9 591.6,105.6 594.0,105.4 597.5,105.4 597.5,105.1 599.5,104.9 601.2,104.7 604.0,104.5 607.2,104.2 609.0,104.0 611.9,103.8 613.8,103.6 616.8,103.3 619.1,103.1 620.0,103.0 622.6,102.7 625.0,102.4 626.9,102.2 626.9,101.9 629.8,101.9 631.8,101.7 634.4,101.4 636.1,101.2 639.4,101.2 639.4,100.8 639.4,100.5 642.4,100.5 645.5,100.5 645.5,100.1 647.5,99.9 650.0,99.6 652.0,99.4 654.4,99.1 657.5,99.1 657.5,98.8 659.5,98.5 661.5,98.3 663.2,98.1 665.2,97.9 665.2,97.5 668.2,97.5 670.2,97.3 670.2,97.0 673.0,97.0 676.5,96.8 679.9,96.6 683.2,96.4 685.4,96.3 688.4,96.1 691.0,95.9 692.7,95.8 695.1,95.7 697.5,95.5 700.8,95.3 704.2,95.1 706.5,95.0 708.5,94.9 710.1,94.8 713.2,94.6 716.6,94.4 719.1,94.2 721.5,94.1 723.6,93.9 726.0,93.8 728.1,93.8 731.0,93.7 733.2,93.7 736.4,93.7 738.2,93.6 739.9,93.6 742.2,93.6 745.4,93.5 748.8,93.5 752.1,93.4 755.0,93.4 758.3,93.3 760.8,93.3 763.0,93.3 766.5,93.2 769.5,93.2 773.0,93.1 776.2,93.1 778.0,93.1 780.3,93.0 781.6,93.0" fill="none" stroke="#bf00bf" stroke-width="3.85" stroke-linejoin="round" stroke-linecap="butt"/>
<polyline points="78.8,558.8 79.0,556.8 79.2,555.1 79.2,552.3 79.5,552.3 79.5,549.5 79.8,549.5 80.2,549.5 80.2,546.1 80.4,544.0 80.6,542.4 80.9,542.4 80.9,539.3 81.2,537.1 81.3,535.4 81.7,535.4 81.7,532.0 82.0,529.6 82.2,527.8 82.5,527.8 82.5,525.0 82.7,522.9 82.9,520.7 83.3,520.7 83.3,517.5 83.6,517.5 83.6,514.1 83.8,512.2 84.2,512.2 84.2,508.8 84.2,505.6 84.5,505.6 84.7,503.5 85.1,503.5 85.1,500.1 85.3,498.4 85.4,496.7 85.5,496.0 85.5,493.4 86.6,493.4 87.3,493.4 87.3,491.7 87.3,488.5 88.6,488.5 88.6,487.0 89.2,487.0 89.2,485.0 90.0,485.0 90.0,485.0 90.0,483.4 90.4,483.4 90.4,481.5 90.8,481.5 91.1,481.5 91.1,479.9 91.1,476.9 91.8,476.9 91.8,475.2 92.2,475.2 92.2,473.6 92.5,473.6 93.0,473.6 93.0,471.6 93.0,470.1 93.3,470.1 93.3,468.6 93.6,468.6 94.4,468.6 94.4,465.2 94.4,462.8 94.9,462.8 95.0,462.5 95.0,460.1 96.0,460.1 96.0,458.2 96.7,458.2 97.9,458.2 97.9,455.4 99.1,455.4 99.1,452.2 99.1,450.1 100.0,450.1 100.0,450.0 100.0,447.7 100.4,447.7 101.0,447.7 101.0,444.3 101.4,444.3 101.4,441.3 101.8,441.3 101.8,439.4 102.3,439.4 102.3,436.5 102.5,435.0 102.9,435.0 102.9,433.2 102.9,430.6 103.5,430.6 104.2,430.6 104.2,427.5 104.2,424.4 104.9,424.4 105.4,424.4 105.4,421.8 105.4,418.9 106.1,418.9 106.1,417.2 106.5,417.2 106.5,415.1 106.9,415.1 107.3,415.1 107.3,413.3 107.5,412.5 108.0,412.5 108.0,410.7 108.0,409.1 108.4,409.1 109.2,409.1 109.2,406.4 110.0,406.4 110.0,403.3 110.0,401.0 110.6,401.0 111.2,401.0 111.2,398.8 111.7,398.8 111.7,396.9 112.5,396.9 112.5,394.0 112.5,391.8 113.1,391.8 113.1,389.3 113.8,389.3 114.3,389.3 114.3,387.3 115.1,387.3 115.1,384.2 115.9,384.2 115.9,381.3 116.2,381.3 116.2,380.0 116.9,380.0 116.9,378.2 116.9,375.6 117.8,375.6 117.8,372.8 118.8,372.8 119.4,372.8 119.4,371.2 120.1,371.2 120.1,369.2 121.0,369.2 121.0,366.6 122.1,366.6 122.1,363.6 122.1,362.5 122.5,362.5 123.3,362.5 123.3,360.2 123.9,360.2 123.9,358.3 124.7,358.3 124.7,356.0 124.7,354.5 125.2,354.5 126.1,354.5 126.1,351.6 127.2,351.6 127.2,348.4 127.5,347.5 127.5,345.4 129.0,345.4 129.0,343.5 130.4,343.5 130.4,342.1 131.4,342.1 133.3,342.1 133.3,339.5 135.0,339.5 135.0,337.2 137.0,337.2 137.0,334.4 137.5,334.4 137.5,333.8 137.5,332.2 138.0,332.2 138.0,330.0 138.7,330.0 139.2,330.0 139.2,328.3 139.2,325.3 140.1,325.3 140.6,325.3 140.6,323.6 141.1,323.6 141.1,321.9 141.1,320.4 141.6,320.4 142.5,320.4 142.5,317.5 142.5,315.6 143.4,315.6 143.4,313.0 144.5,313.0 145.2,313.0 145.2,311.5 145.8,311.5 145.8,310.0 146.8,310.0 146.8,307.7 147.5,307.7 147.5,306.2 147.5,303.5 149.6,303.5 150.9,303.5 150.9,301.7 152.5,301.7 152.5,299.6 152.5,297.6 154.0,297.6 154.0,294.8 156.1,294.8 156.1,292.6 157.8,292.6 158.7,292.6 158.7,291.3 158.8,291.2 159.7,291.2 159.7,290.0 161.3,290.0 161.3,287.7 162.8,287.7 162.8,285.7 162.8,284.1 164.0,284.1 164.0,281.9 165.6,281.9 165.6,279.9 167.0,279.9 167.0,278.3 168.1,278.3 168.8,278.3 168.8,277.5 168.8,275.9 169.6,275.9 169.6,274.4 170.3,274.4 170.3,271.8 171.6,271.8 171.6,268.7 173.1,268.7 173.9,268.7 173.9,267.2 173.9,265.3 174.9,265.3 175.0,265.0 176.3,265.0 176.3,263.3 176.3,262.1 177.4,262.1 178.6,262.1 178.6,260.5 179.9,260.5 179.9,258.8 180.0,258.8 181.2,258.8 181.2,257.4 181.2,255.2 183.1,255.2 184.1,255.2 184.1,253.9 184.1,252.0 185.8,252.0 185.8,250.3 187.2,250.3 187.5,250.0 189.3,250.0 189.3,247.8 190.9,247.8 190.9,245.7 192.1,245.7 192.1,244.3 192.1,242.3 193.6,242.3 195.6,242.3 195.6,239.8 195.6,238.1 197.1,238.1 197.5,238.1 197.5,237.5 199.7,237.5 199.7,235.3 199.7,232.9 202.1,232.9 203.9,232.9 203.9,231.1 205.9,231.1 205.9,229.1 207.1,229.1 207.1,227.9 207.1,227.5 207.5,227.5 207.5,226.1 209.1,226.1 211.6,226.1 211.6,223.9 211.6,221.6 214.2,221.6 216.4,221.6 216.4,219.7 217.5,219.7 217.5,218.8 217.5,217.8 218.6,217.8 221.0,217.8 221.0,215.7 221.0,214.6 222.3,214.6 224.2,214.6 224.2,212.9 224.2,211.7 225.6,211.7 227.5,211.7 227.5,210.0 227.5,208.9 228.6,208.9 229.8,208.9 229.8,207.7 231.0,207.7 231.0,206.5 231.0,205.3 232.2,205.3 233.5,205.3 233.5,204.0 233.5,202.1 235.4,202.1 235.4,200.4 237.1,200.4 237.1,200.0 237.5,200.0 239.3,200.0 239.3,198.6 241.7,198.6 241.7,196.8 243.4,196.8 243.4,195.6 244.7,195.6 244.7,194.6 244.7,193.4 246.3,193.4 246.3,192.5 247.5,192.5 247.5,190.6 250.3,190.6 252.5,190.6 252.5,189.1 254.2,189.1 254.2,188.0 254.2,187.5 255.0,187.5 255.0,186.8 257.9,186.8 261.3,186.8 261.3,185.9 261.3,185.5 263.0,185.5 264.8,185.5 264.8,185.1 265.0,185.0 266.4,185.0 266.4,184.3 269.4,184.3 269.4,182.8 269.4,181.5 271.9,181.5 271.9,180.6 273.8,180.6 273.8,180.0 275.0,180.0 277.0,180.0 277.0,179.2 279.7,179.2 279.7,178.2 279.7,177.5 281.6,177.5 281.6,176.8 283.6,176.8 283.6,176.2 285.0,176.2 287.3,176.2 287.3,175.1 287.3,174.3 288.9,174.3 290.6,174.3 290.6,173.5 292.2,173.5 292.2,172.6 292.5,172.5 295.3,172.5 295.3,170.5 297.2,170.5 297.2,169.1 297.2,167.2 300.0,167.2 300.0,166.4 302.0,166.4 303.8,166.4 303.8,165.7 306.0,165.7 306.0,164.9 306.0,163.9 308.5,163.9 311.1,163.9 311.1,162.9 312.6,162.9 312.6,162.3 314.4,162.3 314.4,161.6 315.0,161.4 315.0,160.7 317.0,160.7 319.2,160.7 319.2,160.0 319.2,159.2 321.5,159.2 323.1,159.2 323.1,158.7 323.1,158.2 324.6,158.2 324.6,157.6 326.5,157.6 329.3,157.6 329.3,156.6 330.0,156.4 333.2,156.4 333.2,155.3 335.1,155.3 335.1,154.6 338.1,154.6 338.1,153.6 338.1,152.6 341.0,152.6 342.9,152.6 342.9,151.9 342.9,151.2 345.0,151.2 347.1,151.2 347.1,150.3 350.1,150.3 350.1,149.1 350.1,148.1 352.4,148.1 352.4,147.1 354.8,147.1 355.0,147.0 355.0,146.6 356.7,146.6 356.7,146.1 358.9,146.1 362.3,146.1 362.3,145.3 364.8,145.3 364.8,144.8 367.5,144.8 367.5,144.2 369.3,144.2 369.3,143.8 370.0,143.6 372.9,143.6 372.9,142.5 374.7,142.5 374.7,141.8 374.7,141.0 376.6,141.0 379.2,141.0 379.2,140.0 381.5,140.0 381.5,139.2 381.5,138.4 383.5,138.4 383.5,137.8 385.0,137.8 385.0,137.3 386.8,137.3 390.1,137.3 390.1,136.3 392.3,136.3 392.3,135.7 392.3,134.9 395.0,134.9 395.0,134.4 396.6,134.4 396.6,133.8 398.7,133.8 398.7,132.9 401.9,132.9 401.9,132.0 404.9,132.0 405.0,132.0 405.0,131.5 406.8,131.5 408.4,131.5 408.4,131.0 411.2,131.0 411.2,130.1 411.2,129.2 414.5,129.2 417.4,129.2 417.4,128.3 417.4,127.5 420.0,127.5 421.7,127.5 421.7,127.2 423.3,127.2 423.3,126.9 424.8,126.6 427.8,126.6 427.8,126.0 430.8,126.0 430.8,125.5 433.4,125.5 433.4,125.0 433.4,124.5 436.2,124.5 436.2,123.9 439.2,123.9 440.0,123.8 441.6,123.8 441.6,123.4 441.6,122.9 444.3,122.9 444.3,122.5 446.9,122.5 449.2,122.5 449.2,122.0 449.2,121.6 451.6,121.6 454.3,121.6 454.3,121.1 454.3,120.7 456.1,120.7 456.1,120.2 459.0,120.2 460.0,120.0 460.0,119.3 463.3,119.3 465.7,119.3 465.7,118.7 465.7,118.4 467.5,118.4 469.9,118.4 469.9,117.8 469.9,117.2 472.6,117.2 472.6,116.8 474.4,116.8 477.3,116.8 477.3,116.2 479.5,116.2 479.5,115.7 479.5,115.3 481.3,115.3 481.3,114.8 483.6,114.8 485.0,114.8 485.0,114.5 487.3,114.2 490.4,114.2 490.4,113.8 490.4,113.5 492.7,113.5 494.8,113.2 497.4,113.2 497.4,112.9 499.0,112.7 501.2,112.4 501.2,112.1 503.7,112.1 503.7,111.7 506.6,111.7 506.6,111.3 509.4,111.3 510.0,111.2 511.8,111.1 514.5,110.9 516.5,110.8 518.9,110.6 522.2,110.4 525.5,110.2 527.2,110.0 529.5,109.9 532.6,109.7 535.0,109.5 537.3,109.3 539.8,109.0 541.7,108.8 543.3,108.7 545.6,108.4 548.6,108.4 548.6,108.1 548.6,107.8 551.8,107.8 551.8,107.5 555.3,107.5 557.3,107.3 560.0,107.0 562.6,106.8 564.4,106.6 567.1,106.4 570.1,106.2 572.0,106.0 573.7,105.9 575.3,105.8 578.0,105.6 579.7,105.4 582.7,105.2 585.0,105.0 586.7,104.9 588.9,104.7 590.4,104.6 593.1,104.4 595.9,104.2 597.5,104.1 600.6,103.9 603.7,103.7 605.8,103.5 608.4,103.3 609.9,103.2 611.9,103.1 614.1,102.9 616.6,102.7 619.9,102.5 620.0,102.5 622.3,102.3 622.3,102.0 625.7,102.0 627.7,101.8 630.1,101.6 633.6,101.6 633.6,101.2 636.5,101.0 639.4,100.7 641.4,100.5 643.8,100.3 647.0,100.0 647.0,99.7 650.3,99.7 652.2,99.5 654.0,99.4 657.1,99.1 659.4,98.9 661.9,98.6 661.9,98.3 665.2,98.3 667.0,98.2 669.4,97.9 671.7,97.7 673.0,97.6 675.0,97.5 676.5,97.4 678.2,97.3 679.7,97.3 681.4,97.2 683.6,97.1 686.6,96.9 689.0,96.8 690.6,96.7 693.4,96.6 696.1,96.4 699.3,96.3 701.1,96.2 702.7,96.1 705.6,95.9 708.9,95.8 711.3,95.7 714.5,95.5 717.4,95.3 720.2,95.2 723.3,95.0 725.4,94.9 726.0,94.9 729.3,94.8 732.6,94.7 735.7,94.6 739.1,94.5 741.4,94.4 744.7,94.3 747.8,94.2 749.9,94.1 753.1,94.0 756.5,93.9 758.3,93.8 760.4,93.7 763.0,93.6 766.1,93.5 768.5,93.4 771.2,93.4 773.7,93.3 776.6,93.2 779.2,93.1 781.6,93.0" fill="none" stroke="#008000" stroke-width="3.85" stroke-linejoin="round" stroke-linecap="butt"/>
<line x1="79.0" y1="559.5" x2="781.7" y2="93.0" stroke="#000080" stroke-width="2.60" stroke-dasharray="6.90 2.69"/>
<line x1="75.49" y1="69.7" x2="75.49" y2="562.6" stroke="#000" stroke-width="1.54"/>
<line x1="74.72" y1="561.83" x2="781.7" y2="561.83" stroke="#000" stroke-width="1.54"/>
<line x1="79.00" y1="561.83" x2="79.00" y2="568.53" stroke="#000" stroke-width="1.54"/>
<line x1="68.79" y1="559.50" x2="75.49" y2="559.50" stroke="#000" stroke-width="1.54"/>
<text x="79.0" y="587.4" font-size="17.50" text-anchor="middle">0.0</text>
<text x="61.3" y="566.5" font-size="17.50" text-anchor="end">0.0</text>
<line x1="219.54" y1="561.83" x2="219.54" y2="568.53" stroke="#000" stroke-width="1.54"/>
<line x1="68.79" y1="466.20" x2="75.49" y2="466.20" stroke="#000" stroke-width="1.54"/>
<text x="219.5" y="587.4" font-size="17.50" text-anchor="middle">0.2</text>
<text x="61.3" y="473.2" font-size="17.50" text-anchor="end">0.2</text>
<line x1="360.08" y1="561.83" x2="360.08" y2="568.53" stroke="#000" stroke-width="1.54"/>
<line x1="68.79" y1="372.90" x2="75.49" y2="372.90" stroke="#000" stroke-width="1.54"/>
<text x="360.1" y="587.4" font-size="17.50" text-anchor="middle">0.4</text>
<text x="61.3" y="379.9" font-size="17.50" text-anchor="end">0.4</text>
<line x1="500.62" y1="561.83" x2="500.62" y2="568.53" stroke="#000" stroke-width="1.54"/>
<line x1="68.79" y1="279.60" x2="75.49" y2="279.60" stroke="#000" stroke-width="1.54"/>
<text x="500.6" y="587.4" font-size="17.50" text-anchor="middle">0.6</text>
<text x="61.3" y="286.6" font-size="17.50" text-anchor="end">0.6</text>
<line x1="641.16" y1="561.83" x2="641.16" y2="568.53" stroke="#000" stroke-width="1.54"/>
<line x1="68.79" y1="186.30" x2="75.49" y2="186.30" stroke="#000" stroke-width="1.54"/>
<text x="641.2" y="587.4" font-size="17.50" text-anchor="middle">0.8</text>
<text x="61.3" y="193.3" font-size="17.50" text-anchor="end">0.8</text>
<line x1="781.70" y1="561.83" x2="781.70" y2="568.53" stroke="#000" stroke-width="1.54"/>
<line x1="68.79" y1="93.00" x2="75.49" y2="93.00" stroke="#000" stroke-width="1.54"/>
<text x="781.7" y="587.4" font-size="17.50" text-anchor="middle">1.0</text>
<text x="61.3" y="100.0" font-size="17.50" text-anchor="end">1.0</text>
<text x="428.6" y="617.3" font-size="23.00" letter-spacing="0.35" text-anchor="middle">False Positive Rate</text>
<text transform="translate(20.0,316.8) rotate(-90)" font-size="23.00" letter-spacing="0.35" text-anchor="middle">True Positive Rate</text>
<text x="428.6" y="58.7" font-size="27.15" letter-spacing="0.04" text-anchor="middle">Activity Classifier ROC AUC</text>
<rect x="405.4" y="402.0" width="364.8" height="148.3" rx="3.5" fill="#fff" fill-opacity="0.8" stroke="#d6d6d6" stroke-width="1.70"/>
<line x1="413.6" y1="421.8" x2="464.2" y2="421.8" stroke="#ff8c00" stroke-width="3.85"/>
<text x="479.1" y="429.2" font-size="23.00" letter-spacing="0.32">LSTM-ProtTrans 0.872</text>
<line x1="413.6" y1="456.8" x2="464.2" y2="456.8" stroke="#00bfbf" stroke-width="3.85"/>
<text x="479.1" y="464.0" font-size="23.00" letter-spacing="0.32">LSTM-ESM 0.864</text>
<line x1="413.6" y1="491.9" x2="464.2" y2="491.9" stroke="#bf00bf" stroke-width="3.85"/>
<text x="479.1" y="498.9" font-size="23.00" letter-spacing="0.32">LSTM-RandomInit 0.850</text>
<line x1="413.6" y1="527.0" x2="464.2" y2="527.0" stroke="#008000" stroke-width="3.85"/>
<text x="479.1" y="533.8" font-size="23.00" letter-spacing="0.32">GRU-RandomInit 0.840</text>
<text x="113.5" y="28.6" font-size="38.8" class="ltr">a</text>
<polyline points="1005.6,575.9 1005.6,573.6 1005.7,569.5 1005.7,567.5 1005.7,564.0 1005.8,560.3 1005.8,557.9 1005.8,553.7 1005.9,549.7 1005.9,546.2 1005.9,543.5 1006.0,540.0 1006.0,537.0 1006.1,534.5 1006.2,530.8 1006.4,526.9 1006.5,523.9 1006.6,521.1 1006.7,519.0 1006.8,515.8 1006.8,515.0 1007.0,511.6 1007.1,507.8 1007.3,503.3 1007.5,500.0 1007.6,496.8 1007.7,494.0 1007.8,489.8 1007.8,486.6 1007.9,483.8 1008.0,481.0 1008.1,478.0 1008.1,476.2 1008.2,472.2 1008.3,468.8 1008.3,465.0 1008.4,462.6 1008.4,459.9 1008.5,457.7 1008.6,454.4 1008.6,450.3 1008.7,447.4 1008.8,445.0 1009.0,440.7 1009.1,437.7 1009.2,435.5 1009.4,433.4 1009.4,432.5 1009.7,430.5 1010.2,430.5 1010.2,426.4 1010.6,426.4 1010.6,423.8 1011.5,423.8 1011.5,421.5 1012.2,421.5 1012.2,420.0 1012.2,417.0 1013.5,417.0 1013.5,414.7 1014.5,414.7 1015.9,414.7 1015.9,411.3 1017.0,411.3 1017.0,408.7 1017.0,406.9 1017.8,406.9 1017.8,403.9 1018.2,403.9 1018.2,401.7 1018.6,401.7 1019.1,401.7 1019.1,398.1 1019.1,395.9 1019.4,395.9 1019.7,395.9 1019.7,393.8 1019.8,390.7 1020.1,386.2 1020.2,382.9 1020.4,380.0 1020.5,377.0 1020.6,375.0 1021.4,375.0 1021.4,372.3 1021.4,370.1 1022.1,370.1 1022.1,367.4 1022.9,367.4 1023.4,367.4 1023.4,365.6 1025.6,365.6 1025.6,365.2 1025.6,364.7 1028.1,364.7 1028.3,362.3 1028.5,358.5 1028.8,354.6 1029.0,351.6 1029.1,350.6 1029.1,346.6 1030.8,346.6 1030.8,344.1 1031.9,344.1 1031.9,340.5 1034.4,340.5 1036.6,340.5 1036.6,337.5 1036.6,333.6 1037.1,333.6 1037.1,331.4 1037.4,331.4 1037.4,327.5 1038.0,327.5 1038.3,327.5 1038.3,324.8 1038.4,324.4 1038.4,322.0 1038.9,322.0 1039.5,322.0 1039.5,319.4 1040.0,319.4 1040.0,317.0 1040.6,317.0 1040.6,314.2 1040.6,311.4 1041.2,311.4 1041.2,311.2 1041.2,309.3 1042.5,309.3 1043.8,309.3 1043.8,307.4 1043.8,305.6 1045.0,305.6 1045.2,301.1 1045.3,300.0 1045.3,295.6 1045.8,295.6 1046.2,295.6 1046.2,292.2 1046.2,288.9 1046.6,288.9 1046.6,288.8 1050.1,288.8 1050.1,287.8 1053.1,287.8 1053.1,286.9 1054.6,286.9 1054.6,283.2 1054.6,280.8 1055.6,280.8 1056.7,280.8 1056.7,278.0 1056.9,277.5 1056.9,275.5 1057.2,275.5 1057.2,273.2 1057.6,273.2 1057.6,270.3 1058.1,270.3 1058.1,267.1 1058.6,267.1 1058.8,266.2 1058.8,264.3 1060.7,264.3 1060.7,262.4 1062.6,262.4 1062.6,260.6 1064.4,260.6 1064.4,260.6 1064.4,257.9 1065.7,257.9 1066.9,257.9 1066.9,255.7 1066.9,253.1 1068.2,253.1 1069.2,253.1 1069.2,251.1 1070.0,251.1 1070.0,249.4 1070.0,245.7 1072.2,245.7 1072.2,242.0 1074.4,242.0 1075.6,242.0 1075.6,240.0 1075.6,240.0 1075.6,237.9 1077.4,237.9 1078.7,237.9 1078.7,236.3 1080.3,236.3 1080.3,234.4 1082.1,234.4 1082.1,230.8 1082.1,228.8 1083.1,228.8 1084.2,228.8 1084.2,226.6 1084.2,225.0 1085.0,225.0 1085.0,222.5 1088.7,222.5 1090.4,222.5 1090.4,221.4 1090.6,221.2 1092.2,221.2 1092.2,219.1 1092.2,215.9 1094.6,215.9 1096.2,215.9 1096.2,213.8 1098.7,213.8 1098.7,210.5 1100.4,210.5 1100.4,208.3 1101.9,208.3 1101.9,206.2 1104.0,206.2 1104.0,204.8 1107.5,204.8 1107.5,202.5 1110.7,202.5 1110.7,199.9 1112.2,199.9 1112.2,198.8 1112.2,198.3 1114.7,198.3 1117.7,198.3 1117.7,197.8 1117.8,197.8 1117.8,195.5 1118.6,195.5 1118.6,191.7 1119.8,191.7 1119.8,189.4 1120.6,189.4 1120.6,187.9 1121.9,187.9 1121.9,185.1 1124.2,185.1 1124.2,183.3 1125.7,183.3 1125.7,181.2 1127.5,181.2 1127.5,178.3 1130.5,178.3 1132.4,178.3 1132.4,176.4 1134.6,176.4 1134.6,174.2 1136.3,174.2 1136.3,172.4 1136.3,171.2 1137.5,171.2 1137.5,169.1 1140.4,169.1 1142.2,169.1 1142.2,167.8 1142.2,165.9 1144.6,165.9 1144.6,164.5 1146.5,164.5 1147.5,164.5 1147.5,163.8 1149.6,163.8 1149.6,163.2 1152.3,163.2 1152.3,162.5 1154.6,162.5 1154.6,162.0 1157.1,162.0 1157.1,161.3 1157.5,161.2 1157.5,159.6 1159.1,159.6 1161.3,159.6 1161.3,157.4 1163.5,157.4 1163.5,155.2 1163.8,155.0 1163.8,153.7 1166.8,153.7 1166.8,152.1 1170.6,152.1 1172.5,152.1 1172.5,151.2 1172.5,150.7 1174.5,150.7 1177.6,150.7 1177.6,150.0 1177.6,149.4 1180.0,149.4 1182.5,149.4 1182.5,148.8 1185.3,148.8 1185.3,146.4 1185.3,143.6 1188.6,143.6 1190.0,143.6 1190.0,142.5 1190.0,141.2 1191.9,141.2 1194.4,141.2 1194.4,139.6 1194.4,138.2 1196.5,138.2 1196.5,137.5 1197.5,137.5 1201.0,137.5 1201.0,134.9 1201.0,133.8 1202.5,133.8 1202.5,132.6 1205.8,132.6 1205.8,131.2 1210.0,131.2 1212.6,131.2 1216.8,131.2 1220.0,131.2 1222.2,131.0 1226.2,131.0 1226.2,130.5 1228.3,130.2 1230.0,130.0 1233.0,130.0 1233.0,128.5 1233.0,126.9 1236.2,126.9 1236.2,126.2 1237.5,126.2 1237.5,125.9 1241.2,125.9 1245.4,125.9 1245.4,125.5 1249.5,125.5 1249.5,125.1 1250.0,125.0 1254.2,125.0 1254.2,124.0 1258.3,124.0 1258.3,122.9 1258.3,122.5 1260.0,122.5 1262.6,122.5 1262.6,122.2 1262.6,121.7 1266.3,121.7 1266.3,121.2 1270.0,121.2 1270.0,120.4 1273.4,120.4 1276.7,120.4 1276.7,119.6 1279.4,119.6 1279.4,118.9 1280.0,118.8 1283.3,118.8 1285.6,118.8 1288.5,118.8 1291.4,118.8 1294.9,118.8 1295.0,118.8 1295.0,118.1 1297.6,118.1 1297.6,117.1 1301.7,117.1 1304.5,117.1 1304.5,116.4 1306.6,116.4 1306.6,115.8 1309.5,115.8 1309.5,115.1 1310.0,115.0 1312.1,115.0 1312.1,114.6 1312.1,114.2 1314.3,114.2 1316.9,114.2 1316.9,113.7 1316.9,113.0 1320.7,113.0 1320.7,112.3 1324.2,112.3 1326.7,112.3 1326.7,111.9 1330.0,111.9 1330.0,111.2 1332.5,111.2 1336.7,111.2 1339.0,111.2 1341.4,111.2 1345.0,111.2 1347.9,111.2 1347.9,109.0 1347.9,107.5 1350.0,107.5 1350.0,106.9 1353.3,106.9 1353.3,106.3 1357.5,106.3 1360.9,106.3 1360.9,105.7 1364.6,105.7 1364.6,105.1 1365.0,105.0 1369.1,105.0 1369.1,104.2 1369.1,103.6 1372.3,103.6 1374.8,103.6 1374.8,103.2 1378.8,103.2 1378.8,102.4 1378.8,101.6 1382.9,101.6 1385.0,101.6 1385.0,101.2 1388.8,101.2 1388.8,99.9 1390.0,99.9 1390.0,99.5 1394.1,99.5 1394.1,97.9 1394.1,97.2 1396.0,97.2 1398.7,97.2 1398.7,96.1 1398.7,95.2 1401.0,95.2 1405.2,95.4 1409.3,95.5 1413.7,95.7 1416.4,95.8 1420.1,95.9 1422.0,96.0 1422.0,94.1 1423.5,94.1 1424.0,94.1 1424.0,93.5 1428.2,93.3 1432.4,93.1 1436.3,92.9 1439.8,92.7 1441.0,92.6 1441.0,90.6 1443.0,90.6 1446.8,90.5 1451.1,90.4 1453.0,90.4 1453.0,89.6 1455.0,89.6 1457.1,89.6 1459.4,89.6 1463.2,89.6 1465.7,89.6 1466.0,89.6 1468.0,89.6 1468.0,88.6 1470.6,88.6 1472.7,88.6 1476.4,88.5 1478.0,88.5 1480.0,88.5 1480.0,87.2 1483.7,87.2 1486.3,87.2 1487.0,87.2 1488.8,87.2 1488.8,83.4 1489.0,82.9 1493.4,82.8 1496.0,82.7 1498.9,82.7 1502.9,82.6 1505.0,82.5 1507.0,82.5 1507.0,80.8 1509.7,80.8 1514.1,80.7 1517.9,80.7 1520.2,80.7 1523.0,80.6 1526.1,80.6 1527.5,80.6 1527.5,79.6 1529.5,79.6 1533.8,79.6 1536.3,79.6 1538.8,79.5 1541.6,79.5 1544.4,79.5 1547.2,79.5 1551.2,79.5 1553.8,79.4 1557.8,79.4 1559.5,79.4 1561.5,79.4 1561.5,78.3 1563.5,78.3 1567.4,78.3 1571.7,78.2 1574.7,78.2 1578.2,78.2 1580.6,78.2 1583.7,78.1 1586.5,78.1 1588.6,78.1 1591.3,78.1 1595.1,78.0 1597.7,78.0 1600.0,78.0 1602.6,77.9 1605.7,77.9 1609.8,77.8 1612.4,77.7 1616.1,77.6 1618.4,77.6 1622.3,77.5 1624.5,77.4 1628.9,77.3 1630.0,77.3 1633.1,77.3 1635.4,77.2 1638.8,77.2 1642.4,77.1 1646.5,77.1 1650.0,77.0 1653.9,77.0 1658.0,76.9 1661.2,76.9 1664.9,76.8 1669.0,76.8 1671.7,76.7 1674.8,76.7 1677.2,76.7 1681.5,76.6 1686.0,76.6 1688.2,76.5 1690.0,76.5 1692.6,76.5 1696.0,76.4 1698.7,76.4 1700.9,76.3 1704.3,76.3 1706.9,76.3 1710.2,76.2 1714.0,76.2 1716.3,76.1 1720.6,76.1 1724.4,76.0 1727.9,76.0 1730.9,75.9 1733.4,75.9 1737.6,75.8 1739.7,75.8 1744.1,75.7 1746.9,75.7 1751.4,75.6 1754.7,75.6 1758.7,75.5 1759.3,75.5" fill="none" stroke="#bf00bf" stroke-width="4.13" stroke-linejoin="round" stroke-linecap="butt"/>
<polyline points="1005.6,575.9 1005.6,573.1 1005.7,569.7 1005.8,567.1 1005.8,564.2 1005.9,560.1 1005.9,557.4 1006.0,553.4 1006.1,549.9 1006.1,547.1 1006.2,542.9 1006.3,538.9 1006.3,537.0 1006.5,533.3 1006.7,530.4 1006.8,527.9 1007.0,525.0 1007.2,521.0 1007.3,518.3 1007.5,515.0 1007.7,512.8 1008.0,512.8 1008.0,508.8 1008.3,505.9 1008.5,502.5 1008.8,500.0 1008.9,497.0 1009.0,493.6 1009.1,490.9 1009.2,487.4 1009.4,483.8 1009.4,482.5 1009.9,482.5 1009.9,478.1 1009.9,475.2 1010.3,475.2 1010.3,472.7 1010.6,472.7 1011.0,472.7 1011.0,469.7 1011.2,467.5 1011.5,464.6 1011.7,461.7 1011.9,458.5 1012.2,454.7 1012.4,452.6 1012.5,451.2 1012.7,448.4 1012.9,445.4 1013.0,442.4 1013.1,441.2 1013.7,441.2 1013.7,437.4 1013.7,433.2 1014.3,433.2 1014.4,432.5 1014.4,428.8 1014.4,426.2 1014.4,424.4 1014.4,423.8 1017.3,423.8 1017.5,423.8 1017.4,421.4 1017.4,418.8 1017.3,414.4 1017.2,411.3 1017.2,410.0 1017.3,407.3 1017.4,403.7 1017.5,400.6 1017.7,397.3 1017.8,394.5 1017.8,393.8 1017.8,390.5 1019.1,390.5 1020.8,390.5 1020.8,386.4 1021.6,386.4 1021.6,384.4 1023.8,384.4 1023.8,381.8 1023.8,379.5 1025.8,379.5 1028.1,379.5 1028.1,376.9 1028.1,373.1 1029.5,373.1 1029.5,370.6 1030.5,370.6 1030.5,369.4 1030.9,369.4 1030.9,365.5 1031.6,365.5 1032.3,365.5 1032.3,361.9 1032.3,359.0 1032.9,359.0 1033.6,359.0 1033.6,355.3 1033.8,354.4 1033.8,351.2 1035.4,351.2 1036.9,351.2 1036.9,348.2 1037.5,348.2 1037.5,346.9 1038.3,346.9 1038.3,343.1 1038.3,340.0 1039.0,340.0 1039.4,340.0 1039.4,337.8 1039.4,334.0 1040.2,334.0 1040.3,333.8 1040.3,330.3 1041.4,330.3 1041.4,329.0 1041.8,329.0 1041.8,326.8 1044.0,326.8 1046.7,326.8 1046.7,324.0 1048.2,324.0 1048.2,322.5 1048.2,319.3 1049.0,319.3 1049.9,319.3 1049.9,315.7 1050.6,315.7 1050.6,312.7 1050.8,312.0 1050.8,308.8 1050.0,308.8 1050.0,306.5 1049.5,306.5 1049.5,304.3 1050.0,304.3 1050.0,301.0 1050.8,301.0 1051.0,300.0 1054.0,300.0 1054.0,297.1 1054.0,294.2 1057.0,294.2 1058.8,294.2 1058.8,292.5 1058.8,288.6 1060.4,288.6 1061.6,288.6 1061.6,286.0 1061.6,285.0 1062.0,285.0 1063.2,285.0 1063.2,282.9 1065.2,282.9 1065.2,279.3 1066.2,279.3 1066.2,277.5 1066.2,277.5 1066.2,273.9 1068.0,273.9 1068.0,270.4 1069.8,270.4 1069.8,268.5 1070.7,268.5 1070.9,268.1 1072.2,268.1 1072.2,265.5 1072.2,262.9 1073.5,262.9 1075.1,262.9 1075.1,259.8 1075.1,256.2 1076.9,256.2 1076.9,255.0 1077.5,255.0 1077.5,252.3 1078.2,252.3 1079.4,252.3 1079.4,248.2 1080.3,248.2 1080.3,244.7 1083.7,244.7 1083.7,242.0 1085.0,242.0 1085.0,240.9 1085.0,240.5 1087.6,240.5 1090.6,240.5 1090.6,240.0 1093.6,240.0 1093.6,237.0 1096.2,237.0 1096.2,234.4 1096.2,232.6 1098.6,232.6 1098.6,230.1 1102.0,230.1 1103.8,230.1 1103.8,228.8 1104.9,228.8 1104.9,225.9 1104.9,224.1 1105.6,224.1 1109.6,224.1 1109.6,222.4 1109.6,221.2 1112.2,221.2 1112.2,218.8 1113.7,218.8 1113.7,216.6 1115.0,216.6 1116.8,216.6 1116.8,215.5 1116.8,213.6 1119.8,213.6 1119.8,212.3 1121.8,212.3 1122.5,212.3 1122.5,211.9 1122.5,210.3 1123.8,210.3 1123.8,208.1 1125.7,208.1 1125.7,206.0 1127.5,206.0 1129.1,206.0 1129.1,202.5 1129.1,199.9 1130.3,199.9 1130.3,197.8 1131.2,197.8 1131.2,195.0 1132.5,195.0 1133.6,195.0 1133.6,193.3 1136.0,193.3 1136.0,189.8 1136.0,186.5 1138.2,186.5 1138.2,183.8 1140.0,183.8 1144.2,183.8 1144.2,182.3 1144.2,181.2 1147.5,181.2 1149.6,181.2 1149.6,179.1 1149.6,176.6 1152.1,176.6 1152.1,176.2 1152.5,176.2 1154.8,176.0 1158.9,176.0 1158.9,175.4 1162.2,175.4 1162.2,175.0 1162.5,175.0 1166.0,175.0 1166.0,172.8 1166.0,171.5 1168.1,171.5 1171.7,171.5 1171.7,169.3 1171.7,168.8 1172.5,168.8 1172.5,167.7 1174.6,167.7 1178.4,167.7 1178.4,165.8 1178.4,164.7 1180.6,164.7 1182.5,164.7 1182.5,163.8 1185.4,163.8 1185.4,162.3 1187.7,162.3 1187.7,161.1 1187.7,159.2 1191.5,159.2 1191.5,158.8 1192.5,158.8 1192.5,157.5 1195.0,157.5 1198.5,157.5 1198.5,155.7 1198.5,154.5 1201.1,154.5 1202.5,154.5 1202.5,153.8 1202.5,152.4 1205.9,152.4 1208.0,152.4 1208.0,151.6 1211.6,151.6 1211.6,150.1 1211.6,149.4 1213.5,149.4 1215.0,149.4 1215.0,148.8 1215.0,147.3 1217.9,147.3 1217.9,146.4 1219.8,146.4 1219.8,144.4 1223.7,144.4 1223.7,143.4 1225.7,143.4 1227.5,143.4 1227.5,142.5 1230.0,142.5 1230.0,141.8 1232.3,141.8 1232.3,141.1 1232.3,139.9 1236.1,139.9 1238.7,139.9 1238.7,139.1 1238.7,138.8 1240.0,138.8 1240.0,137.9 1242.8,137.9 1245.4,137.9 1245.4,137.1 1249.0,137.1 1249.0,136.1 1249.0,135.0 1252.5,135.0 1255.6,135.0 1255.6,133.7 1258.4,133.7 1258.4,132.6 1261.2,132.6 1261.2,131.5 1264.4,131.5 1264.4,130.2 1265.0,130.0 1265.0,128.9 1269.3,128.9 1272.5,128.9 1272.5,128.1 1275.0,128.1 1275.0,127.5 1278.1,127.5 1278.1,126.7 1280.0,126.7 1280.0,126.2 1282.9,126.2 1282.9,125.2 1284.8,125.2 1284.8,124.4 1284.8,123.4 1287.5,123.4 1287.5,122.6 1289.7,122.6 1290.0,122.5 1292.9,122.5 1292.9,121.5 1297.1,121.5 1297.1,120.1 1297.1,119.2 1299.9,119.2 1299.9,117.9 1303.9,117.9 1305.0,117.9 1305.0,117.5 1305.0,116.8 1308.9,116.8 1308.9,116.1 1312.3,116.1 1316.7,116.1 1316.7,115.3 1316.7,114.7 1319.9,114.7 1323.1,114.7 1323.1,114.1 1323.1,113.8 1325.0,113.8 1325.0,112.8 1327.9,112.8 1331.1,112.8 1331.1,111.8 1334.8,111.8 1334.8,110.7 1337.0,110.7 1337.0,110.0 1339.5,110.0 1339.5,109.2 1342.4,109.2 1342.4,108.3 1345.0,108.3 1345.0,107.5 1345.0,107.5 1349.0,107.5 1349.0,107.1 1351.6,106.8 1355.9,106.8 1355.9,106.4 1355.9,106.0 1359.2,106.0 1363.7,106.0 1363.7,105.5 1365.0,105.4 1367.5,105.4 1367.5,104.9 1371.8,104.9 1371.8,104.1 1372.5,104.0 1372.5,103.4 1376.4,103.4 1378.5,103.4 1378.5,103.1 1381.6,103.1 1381.6,102.7 1381.6,102.4 1383.8,102.4 1387.8,102.4 1387.8,101.8 1387.8,101.5 1390.0,101.5 1392.7,101.5 1392.7,101.0 1392.7,100.6 1395.3,100.6 1395.3,100.0 1398.2,100.0 1401.3,100.0 1401.3,99.5 1401.3,98.8 1405.0,98.8 1409.0,98.5 1412.3,98.3 1416.0,98.1 1420.0,97.8 1423.6,97.8 1423.6,97.3 1425.8,97.0 1425.8,96.6 1429.5,96.6 1430.0,96.5 1430.0,96.2 1432.3,96.2 1435.8,96.2 1435.8,95.6 1435.8,95.0 1440.0,95.0 1440.0,94.4 1443.8,94.4 1443.8,94.0 1446.1,94.0 1449.0,94.0 1449.0,93.6 1449.0,92.9 1453.4,92.9 1457.7,92.9 1457.7,92.2 1457.7,91.8 1459.8,91.8 1459.8,91.2 1463.6,91.2 1465.0,91.0 1467.4,90.7 1469.9,90.4 1469.9,90.0 1473.8,90.0 1476.3,89.7 1480.2,89.7 1480.2,89.3 1480.2,88.8 1484.3,88.8 1484.3,88.5 1487.0,88.5 1489.0,88.5 1489.0,87.4 1492.6,87.3 1497.0,87.3 1500.2,87.2 1504.3,87.2 1507.2,87.1 1511.4,87.1 1515.0,87.0 1517.5,86.8 1520.3,86.5 1520.3,86.2 1523.9,86.2 1527.4,86.2 1527.4,85.8 1530.6,85.5 1531.0,85.5 1533.8,85.3 1533.8,85.0 1538.3,85.0 1541.1,84.8 1543.6,84.6 1545.0,84.5 1545.0,83.6 1548.5,83.6 1550.0,83.6 1550.0,83.2 1552.5,83.1 1554.9,82.9 1557.3,82.8 1559.9,82.6 1562.6,82.4 1566.5,82.2 1570.5,82.0 1574.2,81.8 1576.2,81.6 1580.6,81.4 1584.5,81.1 1588.3,80.9 1592.6,80.6 1595.4,80.5 1599.2,80.2 1600.0,80.2 1604.5,80.0 1608.4,79.8 1612.3,79.7 1616.4,79.5 1620.7,79.3 1622.7,79.2 1625.7,79.1 1629.0,78.9 1631.8,78.8 1635.1,78.7 1638.1,78.5 1642.1,78.3 1645.9,78.2 1650.0,78.0 1653.5,77.8 1657.7,77.6 1660.5,77.5 1663.8,77.3 1666.7,77.2 1670.1,77.0 1673.3,76.9 1677.5,76.6 1681.0,76.5 1682.5,76.4 1686.9,76.3 1689.7,76.2 1692.2,76.2 1694.4,76.1 1698.3,76.1 1701.4,76.0 1703.6,75.9 1705.8,75.9 1709.2,75.8 1713.4,75.7 1715.6,75.7 1718.0,75.6 1720.0,75.6 1723.1,75.6 1725.3,75.6 1728.6,75.6 1732.6,75.6 1736.9,75.6 1740.0,75.5 1743.5,75.5 1746.2,75.5 1748.6,75.5 1751.4,75.5 1754.1,75.5 1757.5,75.5 1759.3,75.5" fill="none" stroke="#008000" stroke-width="4.13" stroke-linejoin="round" stroke-linecap="butt"/>
<polyline points="1005.6,575.9 1005.6,575.0 1007.5,575.0 1007.8,575.0 1007.8,572.3 1008.1,570.2 1008.4,568.0 1008.4,564.3 1008.9,564.3 1008.9,561.4 1009.2,561.4 1009.4,560.0 1009.5,557.6 1009.6,553.5 1009.7,549.8 1009.7,547.7 1009.8,544.5 1009.9,542.3 1010.0,539.0 1010.0,537.5 1010.1,535.4 1010.2,532.4 1010.4,528.1 1010.5,525.3 1010.6,522.5 1010.8,518.3 1010.9,515.0 1011.0,512.5 1010.9,509.8 1010.9,507.7 1010.7,503.4 1010.7,500.8 1010.6,497.0 1010.5,495.0 1010.6,491.2 1010.7,488.2 1010.8,484.7 1010.9,482.5 1011.0,479.0 1011.0,476.9 1011.2,473.3 1011.2,470.4 1011.2,470.0 1011.2,465.7 1012.0,465.7 1012.5,465.7 1012.5,463.1 1012.5,460.6 1013.0,460.6 1013.5,460.6 1013.5,457.6 1013.8,456.2 1013.8,454.0 1015.1,454.0 1015.1,451.5 1016.6,451.5 1017.5,451.5 1017.5,450.0 1017.5,446.2 1017.5,444.8 1019.7,444.8 1019.7,443.8 1021.2,443.8 1021.2,441.0 1021.2,437.1 1021.2,435.0 1024.3,435.0 1024.3,432.0 1024.4,431.9 1024.5,429.6 1024.8,425.4 1025.0,422.5 1025.0,420.9 1026.4,420.9 1026.4,420.0 1027.2,420.0 1027.2,417.5 1027.7,417.5 1027.7,415.0 1028.3,415.0 1028.8,415.0 1028.8,412.4 1028.8,410.1 1029.3,410.1 1029.9,410.1 1029.9,407.4 1030.0,406.9 1030.0,403.6 1031.0,403.6 1031.6,403.6 1031.6,401.5 1031.6,397.9 1032.7,397.9 1033.8,397.9 1033.8,394.1 1034.8,394.1 1034.8,390.9 1034.8,388.1 1035.6,388.1 1037.3,388.1 1037.3,385.3 1037.3,382.2 1039.1,382.2 1040.8,382.2 1040.8,379.3 1041.9,379.3 1041.9,377.5 1041.9,376.9 1042.2,376.9 1042.2,373.5 1042.5,373.5 1042.7,371.0 1043.1,371.0 1043.1,367.0 1043.4,363.8 1043.7,360.7 1043.7,357.1 1044.0,357.1 1044.1,356.2 1044.3,352.7 1044.5,348.4 1044.7,344.2 1044.8,340.8 1045.0,337.8 1045.0,337.5 1046.8,337.5 1046.8,333.9 1048.2,333.9 1048.2,331.1 1049.7,331.1 1049.7,328.1 1049.9,325.4 1050.2,322.1 1050.4,319.9 1050.6,316.9 1050.6,316.9 1050.6,313.1 1052.5,313.1 1053.8,313.1 1053.8,310.6 1055.5,310.6 1055.5,307.2 1055.5,305.6 1056.2,305.6 1056.2,303.7 1059.2,303.7 1060.9,303.7 1060.9,302.7 1060.9,301.3 1063.1,301.3 1063.8,301.3 1063.8,300.9 1064.6,300.9 1064.6,296.7 1064.6,293.1 1065.4,293.1 1065.4,288.8 1066.2,288.8 1066.2,288.8 1067.6,288.8 1067.6,286.9 1067.6,283.4 1070.0,283.4 1071.2,283.4 1071.2,281.6 1072.8,281.6 1072.8,279.4 1072.8,275.1 1073.3,275.1 1073.7,275.1 1073.7,272.0 1073.8,271.9 1075.2,271.9 1075.2,269.8 1077.5,269.8 1077.5,266.6 1077.5,263.4 1079.7,263.4 1080.3,263.4 1080.3,262.5 1080.3,259.1 1082.4,259.1 1084.2,259.1 1084.2,256.3 1084.2,255.0 1085.0,255.0 1087.8,255.0 1087.8,253.1 1087.8,251.2 1090.6,251.2 1093.2,251.2 1093.2,248.7 1093.2,246.1 1095.7,246.1 1096.2,246.1 1096.2,245.6 1098.3,245.6 1098.3,244.1 1100.7,244.1 1100.7,242.3 1100.7,240.1 1103.7,240.1 1103.8,240.0 1103.8,236.6 1105.4,236.6 1107.3,236.6 1107.3,232.9 1107.5,232.5 1109.3,232.5 1109.3,231.0 1112.3,231.0 1112.3,228.4 1114.1,228.4 1114.1,226.9 1114.9,226.9 1114.9,224.7 1114.9,220.7 1116.4,220.7 1116.9,220.7 1116.9,219.4 1119.5,219.4 1119.5,216.8 1121.3,216.8 1121.3,214.9 1121.3,213.8 1122.5,213.8 1122.5,212.3 1125.5,212.3 1128.3,212.3 1128.3,210.8 1128.3,210.0 1130.0,210.0 1132.0,210.0 1132.0,208.8 1132.0,206.8 1135.5,206.8 1135.5,205.6 1137.5,205.6 1140.3,205.6 1140.3,204.0 1142.5,204.0 1142.5,202.7 1142.5,201.2 1145.0,201.2 1147.6,201.2 1147.6,198.2 1150.2,198.2 1150.2,195.2 1150.2,192.5 1152.5,192.5 1152.5,188.9 1155.2,188.9 1155.2,187.0 1156.6,187.0 1156.6,184.0 1158.8,184.0 1158.8,182.5 1160.0,182.5 1162.1,182.5 1162.1,180.7 1162.1,177.9 1165.3,177.9 1168.6,177.9 1168.6,175.0 1168.6,173.8 1170.0,173.8 1170.0,172.4 1171.5,172.4 1174.3,172.4 1174.3,170.0 1177.0,170.0 1177.0,167.6 1179.2,167.6 1179.2,165.7 1179.2,165.0 1180.0,165.0 1180.0,164.1 1181.9,164.1 1181.9,163.2 1183.7,163.2 1185.6,163.2 1185.6,162.2 1185.6,161.1 1187.8,161.1 1187.8,160.0 1190.0,160.0 1190.0,158.8 1193.0,158.8 1196.5,158.8 1196.5,157.4 1200.5,157.4 1200.5,155.8 1202.5,155.8 1202.5,155.0 1204.7,155.0 1204.7,153.9 1204.7,152.5 1207.5,152.5 1210.8,152.5 1210.8,150.8 1212.5,150.8 1212.5,150.0 1215.7,150.0 1215.7,148.4 1215.7,146.9 1218.7,146.9 1220.6,146.9 1220.6,145.9 1220.6,144.7 1223.1,144.7 1225.0,144.7 1225.0,143.8 1227.3,143.8 1227.3,143.3 1227.3,142.9 1229.3,142.9 1229.3,142.4 1231.6,142.4 1234.4,142.4 1234.4,141.9 1237.5,141.9 1237.5,141.2 1237.5,140.6 1239.6,140.6 1239.6,139.4 1243.7,139.4 1245.8,139.4 1245.8,138.8 1245.8,138.1 1248.1,138.1 1250.0,138.1 1250.0,137.5 1252.9,137.5 1252.9,136.6 1252.9,135.7 1256.1,135.7 1256.1,134.9 1258.7,134.9 1262.4,134.9 1262.4,133.8 1262.5,133.8 1264.9,133.8 1268.8,133.8 1272.3,133.8 1272.5,133.8 1272.5,132.6 1275.1,132.6 1275.1,131.6 1277.4,131.6 1277.4,130.5 1280.0,130.5 1280.0,129.1 1283.2,129.1 1283.2,127.9 1286.2,127.9 1286.2,126.3 1289.8,126.3 1290.0,126.2 1292.7,126.1 1296.3,125.9 1299.2,125.7 1302.7,125.5 1306.5,125.2 1310.0,125.0 1310.0,124.0 1314.0,124.0 1317.4,124.0 1317.4,123.1 1317.4,122.6 1319.6,122.6 1322.5,122.6 1322.5,121.9 1325.0,121.9 1325.0,121.2 1327.7,121.1 1331.5,120.8 1335.5,120.5 1339.7,120.2 1342.5,120.0 1342.5,120.0 1342.5,117.6 1344.9,117.6 1347.0,117.6 1347.0,115.5 1348.8,115.5 1348.8,113.7 1348.8,112.5 1350.0,112.5 1353.7,112.5 1353.7,112.2 1356.8,111.9 1360.7,111.9 1360.7,111.6 1364.2,111.3 1365.0,111.2 1367.8,111.2 1367.8,110.5 1367.8,109.7 1370.5,109.7 1370.5,109.1 1372.6,109.1 1376.0,109.1 1376.0,108.1 1379.7,108.1 1379.7,107.1 1380.0,107.0 1380.0,105.9 1383.5,105.9 1387.4,105.9 1387.4,104.6 1388.0,104.4 1390.6,104.4 1390.6,103.6 1393.6,103.6 1393.6,102.7 1396.0,102.7 1396.0,102.0 1399.4,102.0 1399.4,101.4 1399.4,101.0 1401.8,101.0 1404.0,101.0 1404.0,100.6 1404.0,100.2 1406.4,100.2 1406.4,99.5 1410.6,99.5 1411.0,99.4 1414.9,99.4 1414.9,98.6 1419.0,98.6 1419.0,97.8 1419.0,97.2 1422.1,97.2 1422.1,96.7 1425.2,96.7 1425.2,96.3 1427.0,96.3 1427.0,96.0 1429.3,96.0 1432.2,96.0 1432.2,95.6 1432.2,95.2 1435.2,95.2 1439.1,95.2 1439.1,94.7 1441.3,94.4 1442.0,94.3 1446.2,94.3 1446.2,93.9 1448.3,93.7 1451.4,93.4 1454.9,93.4 1454.9,93.1 1457.6,92.8 1458.0,92.8 1460.3,92.7 1464.7,92.6 1466.7,92.5 1470.2,92.4 1474.0,92.3 1478.0,92.1 1480.0,92.0 1480.0,91.6 1482.2,91.6 1482.2,91.1 1484.6,91.1 1484.6,90.5 1488.2,90.5 1489.0,90.3 1489.0,89.9 1493.5,89.9 1493.5,89.5 1497.5,89.5 1497.5,89.1 1502.0,89.1 1503.0,89.0 1507.1,88.8 1509.2,88.6 1512.6,88.4 1515.8,88.2 1519.1,88.1 1520.0,88.0 1522.2,87.9 1525.8,87.6 1529.4,87.4 1532.1,87.2 1535.0,87.0 1537.4,86.9 1539.8,86.8 1542.2,86.6 1544.3,86.5 1545.0,86.5 1545.0,85.4 1546.8,85.4 1549.5,85.4 1549.5,83.8 1549.5,83.5 1550.0,83.5 1552.5,83.4 1556.0,83.3 1558.3,83.3 1561.6,83.2 1565.2,83.1 1568.2,83.0 1571.7,82.9 1574.0,82.8 1576.4,82.5 1576.4,82.1 1580.6,82.1 1580.6,81.7 1583.8,81.7 1587.6,81.7 1587.6,81.3 1590.0,81.0 1592.8,80.9 1595.1,80.8 1597.7,80.7 1600.0,80.6 1603.7,80.5 1607.2,80.5 1609.8,80.4 1614.3,80.4 1618.3,80.3 1620.5,80.3 1622.5,80.2 1624.7,80.2 1629.2,80.1 1633.2,80.1 1636.2,80.0 1639.6,80.0 1643.3,79.9 1646.9,79.8 1650.1,79.8 1654.0,79.7 1657.9,79.7 1660.7,79.6 1663.9,79.6 1668.1,79.5 1671.6,79.5 1676.1,79.4 1680.0,79.3 1683.2,79.3 1686.6,79.2 1689.1,79.2 1691.9,79.1 1695.8,79.1 1699.5,79.0 1700.0,79.0 1702.6,78.9 1704.9,78.9 1708.6,78.8 1712.0,78.7 1715.5,78.6 1717.7,78.6 1720.2,78.5 1724.0,78.4 1728.3,78.3 1731.7,78.2 1735.4,78.1 1737.5,78.1 1740.0,78.0 1743.9,78.0 1743.9,77.5 1746.1,77.2 1748.7,77.2 1748.7,76.9 1748.7,76.3 1752.9,76.3 1752.9,76.0 1755.4,76.0 1755.4,75.5 1759.2,75.5 1759.3,75.5" fill="none" stroke="#00bfbf" stroke-width="4.13" stroke-linejoin="round" stroke-linecap="butt"/>
<polyline points="1005.6,575.9 1005.6,573.7 1005.6,570.8 1005.6,567.6 1005.6,564.4 1005.6,561.5 1005.6,558.9 1005.6,554.8 1005.6,552.6 1005.6,549.3 1005.6,547.1 1005.6,543.6 1005.6,540.5 1005.6,537.5 1005.8,535.3 1005.8,531.5 1006.1,531.5 1006.4,528.1 1006.6,525.5 1006.9,522.5 1006.9,518.1 1007.2,518.1 1007.4,515.9 1007.5,515.0 1007.5,512.8 1008.4,512.8 1010.0,512.8 1010.0,509.0 1010.0,507.5 1010.6,507.5 1011.3,507.5 1011.3,503.7 1011.3,500.9 1011.7,500.9 1011.9,500.0 1011.9,496.5 1012.8,496.5 1013.4,496.5 1013.4,494.1 1014.3,494.1 1014.3,490.5 1014.4,490.0 1014.4,487.7 1014.4,483.2 1014.4,478.8 1014.4,476.1 1014.4,471.6 1014.4,467.6 1014.4,466.2 1014.4,462.3 1016.0,462.3 1017.0,462.3 1017.0,460.0 1017.0,458.8 1017.5,458.8 1017.5,455.7 1019.4,455.7 1019.4,453.1 1021.1,453.1 1022.8,453.1 1022.8,450.5 1022.8,450.0 1023.1,450.0 1023.1,447.8 1024.2,447.8 1025.0,447.8 1025.0,446.2 1025.0,443.6 1025.0,439.2 1025.0,437.5 1025.0,434.5 1027.6,434.5 1029.4,434.5 1029.4,432.5 1029.6,429.8 1029.7,427.3 1029.9,424.7 1030.0,422.5 1030.0,420.8 1031.3,420.8 1031.3,420.0 1031.9,420.0 1032.1,416.8 1032.2,414.2 1032.5,410.4 1032.7,406.7 1032.8,405.0 1032.8,402.8 1032.9,400.7 1033.0,397.3 1033.1,393.0 1033.1,390.7 1033.2,386.4 1033.3,383.4 1033.3,379.3 1033.4,375.8 1033.5,373.1 1033.5,370.8 1033.6,366.5 1033.7,364.0 1033.7,360.8 1033.8,360.0 1036.4,360.0 1036.4,357.7 1036.4,356.2 1038.2,356.2 1040.3,356.2 1040.3,354.4 1040.4,351.7 1040.5,348.7 1040.6,345.6 1040.8,342.2 1040.9,340.0 1041.0,336.1 1041.1,333.0 1041.2,330.0 1041.2,328.3 1042.9,328.3 1045.9,328.3 1045.9,325.3 1045.9,322.6 1048.6,322.6 1048.8,322.5 1048.8,320.3 1049.3,320.3 1050.3,320.3 1050.3,316.4 1050.3,314.1 1050.9,314.1 1051.6,314.1 1051.6,311.3 1051.6,311.2 1051.6,307.6 1053.4,307.6 1053.4,304.1 1055.2,304.1 1055.2,302.0 1056.2,302.0 1056.2,301.9 1057.8,301.9 1057.8,300.0 1057.8,297.6 1058.5,297.6 1059.4,297.6 1059.4,294.4 1059.4,291.9 1060.2,291.9 1060.2,289.9 1060.7,289.9 1061.5,289.9 1061.5,287.2 1061.6,286.9 1061.6,282.9 1062.1,282.9 1062.3,280.7 1062.6,278.4 1062.6,274.1 1063.1,274.1 1063.4,271.9 1064.9,271.9 1064.9,269.4 1064.9,266.7 1066.4,266.7 1068.5,266.7 1068.5,263.1 1068.5,260.6 1070.0,260.6 1071.4,260.6 1071.4,256.6 1072.6,256.6 1072.6,253.3 1072.6,249.3 1074.0,249.3 1074.7,249.3 1074.7,247.5 1074.7,244.1 1076.5,244.1 1077.6,244.1 1077.6,242.2 1078.8,242.2 1078.8,240.0 1079.9,240.0 1079.9,237.9 1079.9,237.2 1080.3,237.2 1083.5,237.2 1083.5,235.4 1083.5,234.1 1085.9,234.1 1085.9,232.5 1088.8,232.5 1092.0,232.5 1092.0,230.9 1092.0,230.0 1093.8,230.0 1096.2,230.0 1096.2,228.8 1096.2,226.2 1098.1,226.2 1100.5,226.2 1100.5,222.7 1100.5,222.2 1100.9,222.2 1104.2,222.2 1104.2,219.9 1104.2,217.7 1107.2,217.7 1107.5,217.5 1109.7,217.5 1109.7,216.4 1112.5,216.4 1112.5,215.0 1114.5,215.0 1114.5,214.0 1115.0,213.8 1117.5,213.8 1117.5,213.0 1119.7,213.0 1119.7,212.3 1119.7,211.2 1123.3,211.2 1124.4,211.2 1124.4,210.9 1127.4,210.9 1127.4,209.1 1130.0,209.1 1130.0,207.5 1130.0,205.5 1132.7,205.5 1132.7,202.8 1136.3,202.8 1136.3,201.5 1138.0,201.5 1140.0,201.5 1140.0,200.0 1142.7,200.0 1142.7,198.4 1142.7,196.1 1146.6,196.1 1149.4,196.1 1149.4,194.3 1149.4,192.6 1152.3,192.6 1152.5,192.5 1154.6,192.5 1154.6,190.0 1156.6,190.0 1156.6,187.8 1156.6,186.0 1158.1,186.0 1158.1,183.8 1160.0,183.8 1160.0,181.3 1162.8,181.3 1165.6,181.3 1165.6,178.8 1168.4,178.8 1168.4,176.4 1168.4,175.0 1170.0,175.0 1172.5,175.0 1172.5,174.1 1172.5,173.2 1174.8,173.2 1174.8,171.8 1178.5,171.8 1178.5,171.2 1180.0,171.2 1184.3,171.2 1184.3,170.5 1186.9,170.5 1186.9,170.1 1187.5,170.0 1187.5,168.2 1188.5,168.2 1188.5,164.5 1190.7,164.5 1190.7,162.7 1191.7,162.7 1191.7,161.2 1192.5,161.2 1194.8,161.2 1194.8,160.1 1194.8,158.3 1198.5,158.3 1200.0,158.3 1200.0,157.5 1200.0,157.0 1203.1,157.0 1207.0,157.0 1207.0,156.3 1207.0,155.6 1211.4,155.6 1214.3,155.6 1214.3,155.1 1215.0,155.0 1218.6,155.0 1218.6,153.2 1221.8,153.2 1221.8,151.6 1222.5,151.6 1222.5,151.2 1225.9,151.2 1225.9,150.4 1229.7,150.4 1229.7,149.5 1229.7,148.8 1232.5,148.8 1232.5,148.2 1235.3,148.2 1235.3,147.7 1237.6,147.7 1237.6,147.1 1240.7,147.1 1240.7,146.6 1243.4,146.6 1245.0,146.6 1245.0,146.2 1247.5,146.2 1247.5,145.8 1250.2,145.8 1250.2,145.2 1254.3,145.2 1254.3,144.4 1254.3,143.8 1257.5,143.8 1261.5,143.8 1261.5,142.5 1265.3,142.5 1265.3,141.4 1265.3,140.5 1268.3,140.5 1268.3,140.0 1270.0,140.0 1270.0,138.5 1273.0,138.5 1273.0,137.5 1275.0,137.5 1278.6,137.5 1278.6,135.7 1278.6,135.0 1280.0,135.0 1283.4,135.0 1285.0,135.0 1285.0,133.3 1286.3,133.3 1288.9,133.3 1288.9,130.1 1290.0,130.1 1290.0,128.8 1290.0,127.7 1292.9,127.7 1292.9,126.4 1296.3,126.4 1298.1,126.4 1298.1,125.7 1298.1,125.0 1300.0,125.0 1300.0,124.1 1303.7,124.1 1303.7,123.0 1307.8,123.0 1310.8,123.0 1310.8,122.3 1310.8,121.5 1314.0,121.5 1315.0,121.2 1317.5,121.0 1320.8,120.8 1325.2,120.8 1325.2,120.4 1327.6,120.2 1330.0,120.0 1330.0,119.4 1332.8,119.4 1332.8,118.7 1336.6,118.7 1339.8,118.7 1339.8,118.0 1339.8,117.3 1343.7,117.3 1345.0,117.0 1345.0,116.7 1349.5,116.7 1353.3,116.4 1355.4,116.2 1355.4,115.9 1359.7,115.9 1363.2,115.6 1365.0,115.5 1369.2,115.5 1369.2,114.4 1369.2,113.8 1371.2,113.8 1371.2,112.7 1375.4,112.7 1379.0,112.7 1379.0,111.7 1380.0,111.4 1380.0,111.1 1382.3,111.1 1386.0,111.1 1386.0,110.6 1386.0,108.7 1389.8,108.7 1389.8,107.6 1391.8,107.6 1392.0,107.5 1392.0,106.3 1395.9,106.3 1395.9,105.5 1398.5,105.5 1398.5,105.2 1399.5,105.2 1401.8,105.2 1401.8,104.6 1401.8,103.7 1405.5,103.7 1407.4,103.7 1407.4,103.3 1411.0,103.3 1411.0,102.4 1411.0,102.4 1411.0,101.9 1412.9,101.9 1412.9,101.0 1416.5,101.0 1420.3,101.0 1420.3,100.1 1420.5,100.0 1420.5,99.6 1422.9,99.6 1422.9,98.8 1427.0,98.8 1429.6,98.8 1429.6,98.3 1431.0,98.1 1433.5,98.0 1436.7,97.8 1439.3,97.7 1441.7,97.5 1443.9,97.4 1446.0,97.3 1449.5,97.2 1453.4,97.2 1455.9,97.1 1458.9,97.0 1462.0,97.0 1466.0,96.9 1469.5,96.8 1471.8,96.8 1474.5,96.7 1478.9,96.6 1481.0,96.6 1481.0,96.6 1483.1,96.6 1483.1,96.2 1483.1,95.8 1485.1,95.8 1487.3,95.8 1487.3,95.3 1487.3,95.0 1489.0,95.0 1492.7,94.8 1496.6,94.5 1500.0,94.3 1504.4,94.1 1508.7,94.0 1511.0,93.9 1514.3,93.8 1517.3,93.7 1519.0,93.6 1522.0,93.6 1522.0,92.7 1525.8,92.7 1525.8,91.7 1525.8,91.3 1527.0,91.3 1529.6,91.0 1529.6,90.7 1532.3,90.7 1535.7,90.7 1535.7,90.3 1537.8,90.1 1538.5,90.0 1538.5,87.6 1541.0,87.6 1541.0,86.2 1542.5,86.2 1546.7,86.1 1550.5,86.0 1553.8,85.9 1555.8,85.9 1558.4,85.8 1562.4,85.7 1565.1,85.7 1569.5,85.6 1573.1,85.5 1573.5,85.5 1576.9,85.5 1576.9,83.6 1578.0,83.6 1578.0,83.0 1582.3,83.0 1582.3,82.6 1582.3,82.2 1585.9,82.2 1588.0,82.0 1591.0,81.8 1593.9,81.6 1597.2,81.4 1600.0,81.2 1600.0,80.8 1604.1,80.8 1604.1,80.5 1608.2,80.5 1611.0,80.2 1614.9,80.2 1614.9,79.9 1619.1,79.9 1619.1,79.5 1622.4,79.2 1624.4,79.0 1627.6,78.7 1630.0,78.5 1633.9,78.5 1637.8,78.4 1640.1,78.4 1643.3,78.4 1647.2,78.4 1651.1,78.3 1654.2,78.3 1658.2,78.3 1660.7,78.2 1664.1,78.2 1667.6,78.2 1670.9,78.2 1674.3,78.1 1676.6,78.1 1679.1,78.1 1683.4,78.1 1685.6,78.0 1689.1,78.0 1690.0,78.0 1694.0,78.0 1694.0,76.2 1695.0,76.2 1695.0,75.8 1698.2,75.8 1700.4,75.8 1702.4,75.8 1705.1,75.8 1707.4,75.7 1711.5,75.7 1714.6,75.7 1718.9,75.7 1722.9,75.7 1725.3,75.7 1729.3,75.6 1733.3,75.6 1737.1,75.6 1740.7,75.6 1743.2,75.6 1746.0,75.6 1748.0,75.6 1750.7,75.5 1753.3,75.5 1757.3,75.5 1759.3,75.5" fill="none" stroke="#ff8c00" stroke-width="4.13" stroke-linejoin="round" stroke-linecap="butt"/>
<line x1="1005.8" y1="575.8" x2="1759.4" y2="75.4" stroke="#000080" stroke-width="2.79" stroke-dasharray="7.40 2.89"/>
<line x1="1002.03" y1="50.4" x2="1002.03" y2="579.1" stroke="#000" stroke-width="1.65"/>
<line x1="1001.21" y1="578.30" x2="1759.4" y2="578.30" stroke="#000" stroke-width="1.65"/>
<line x1="1005.80" y1="578.30" x2="1005.80" y2="585.49" stroke="#000" stroke-width="1.65"/>
<line x1="994.84" y1="575.80" x2="1002.03" y2="575.80" stroke="#000" stroke-width="1.65"/>
<text x="1005.8" y="605.6" font-size="18.78" text-anchor="middle">0.0</text>
<text x="986.4" y="583.3" font-size="18.78" text-anchor="end">0.0</text>
<line x1="1156.52" y1="578.30" x2="1156.52" y2="585.49" stroke="#000" stroke-width="1.65"/>
<line x1="994.84" y1="475.72" x2="1002.03" y2="475.72" stroke="#000" stroke-width="1.65"/>
<text x="1156.5" y="605.6" font-size="18.78" text-anchor="middle">0.2</text>
<text x="986.4" y="483.2" font-size="18.78" text-anchor="end">0.2</text>
<line x1="1307.24" y1="578.30" x2="1307.24" y2="585.49" stroke="#000" stroke-width="1.65"/>
<line x1="994.84" y1="375.64" x2="1002.03" y2="375.64" stroke="#000" stroke-width="1.65"/>
<text x="1307.2" y="605.6" font-size="18.78" text-anchor="middle">0.4</text>
<text x="986.4" y="383.1" font-size="18.78" text-anchor="end">0.4</text>
<line x1="1457.96" y1="578.30" x2="1457.96" y2="585.49" stroke="#000" stroke-width="1.65"/>
<line x1="994.84" y1="275.56" x2="1002.03" y2="275.56" stroke="#000" stroke-width="1.65"/>
<text x="1458.0" y="605.6" font-size="18.78" text-anchor="middle">0.6</text>
<text x="986.4" y="283.0" font-size="18.78" text-anchor="end">0.6</text>
<line x1="1608.68" y1="578.30" x2="1608.68" y2="585.49" stroke="#000" stroke-width="1.65"/>
<line x1="994.84" y1="175.48" x2="1002.03" y2="175.48" stroke="#000" stroke-width="1.65"/>
<text x="1608.7" y="605.6" font-size="18.78" text-anchor="middle">0.8</text>
<text x="986.4" y="182.9" font-size="18.78" text-anchor="end">0.8</text>
<line x1="1759.40" y1="578.30" x2="1759.40" y2="585.49" stroke="#000" stroke-width="1.65"/>
<line x1="994.84" y1="75.40" x2="1002.03" y2="75.40" stroke="#000" stroke-width="1.65"/>
<text x="1759.4" y="605.6" font-size="18.78" text-anchor="middle">1.0</text>
<text x="986.4" y="82.9" font-size="18.78" text-anchor="end">1.0</text>
<text x="1380.7" y="637.3" font-size="24.68" letter-spacing="0.38" text-anchor="middle">False Positive Rate</text>
<text transform="translate(942.5,315.3) rotate(-90)" font-size="24.68" letter-spacing="0.38" text-anchor="middle">True Positive Rate</text>
<text x="1380.7" y="38.1" font-size="29.13" letter-spacing="0.04" text-anchor="middle">Hemolysis Classifier ROC AUC</text>
<rect x="1355.5" y="407.5" width="391.8" height="158.0" rx="3.8" fill="#fff" fill-opacity="0.8" stroke="#d6d6d6" stroke-width="1.82"/>
<line x1="1364.7" y1="427.9" x2="1418.9" y2="427.9" stroke="#bf00bf" stroke-width="4.13"/>
<text x="1435.1" y="435.7" font-size="24.68" letter-spacing="0.34">LSTM-RandomInit 0.888</text>
<line x1="1364.7" y1="465.4" x2="1418.9" y2="465.4" stroke="#008000" stroke-width="4.13"/>
<text x="1435.1" y="473.2" font-size="24.68" letter-spacing="0.34">GRU-RandomInit 0.875</text>
<line x1="1364.7" y1="503.0" x2="1418.9" y2="503.0" stroke="#00bfbf" stroke-width="4.13"/>
<text x="1435.1" y="510.7" font-size="24.68" letter-spacing="0.34">LSTM-ESM 0.865</text>
<line x1="1364.7" y1="540.6" x2="1418.9" y2="540.6" stroke="#ff8c00" stroke-width="4.13"/>
<text x="1435.1" y="548.2" font-size="24.68" letter-spacing="0.34">LSTM-ProtTrans 0.864</text>
<text x="1073.4" y="28.9" font-size="40.2" class="ltr">b</text>
</svg>
</body></html>
